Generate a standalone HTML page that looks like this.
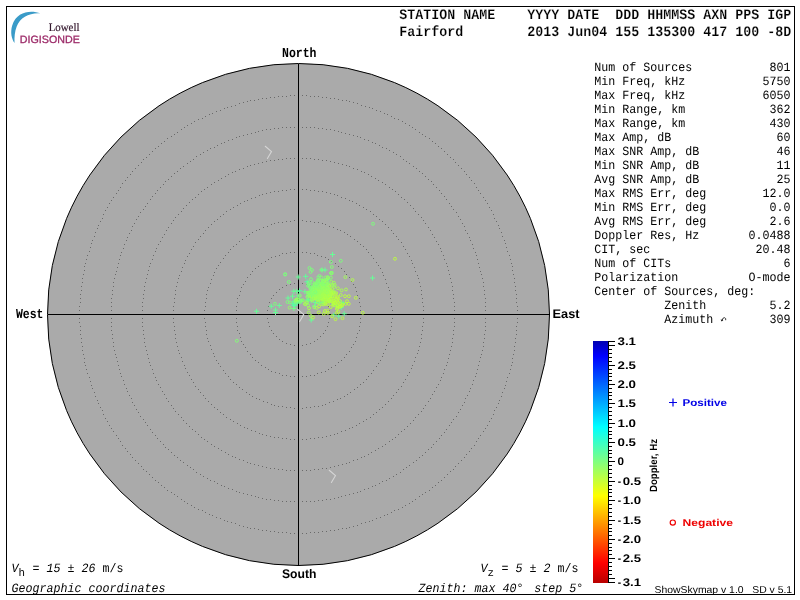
<!DOCTYPE html>
<html lang="en">
<head>
<meta charset="utf-8">
<title>Digisonde Skymap - Fairford 2013 Jun04</title>
<style>
html, body { margin: 0; padding: 0; background: #fff; overflow: hidden; }
body { width: 800px; height: 600px; font-family: "Liberation Sans", sans-serif; }
svg { display: block; position: absolute; left: 0; top: 0; }
text { text-rendering: geometricPrecision; white-space: pre; }
svg { will-change: transform; }
</style>
</head>
<body>
<svg width="800" height="600" viewBox="0 0 800 600">
<rect x="0" y="0" width="800" height="600" fill="#fff"/>
<rect x="6.5" y="6.5" width="788" height="588" fill="none" stroke="#000" stroke-width="1"/>
<circle cx="298.5" cy="314.5" r="251.0" fill="#aaaaaa" stroke="#000" stroke-width="1"/>
<path d="M298 283h1v1h-1zM302 283h1v1h-1zM306 284h1v1h-1zM310 285h1v1h-1zM314 287h1v1h-1zM317 289h1v1h-1zM320 292h1v1h-1zM323 295h1v1h-1zM325 298h1v1h-1zM327 302h1v1h-1zM328 306h1v1h-1zM329 310h1v1h-1zM329 314h1v1h-1zM329 318h1v1h-1zM328 322h1v1h-1zM327 326h1v1h-1zM325 330h1v1h-1zM323 333h1v1h-1zM320 336h1v1h-1zM317 339h1v1h-1zM314 341h1v1h-1zM310 343h1v1h-1zM306 344h1v1h-1zM302 345h1v1h-1zM298 345h1v1h-1zM294 345h1v1h-1zM290 344h1v1h-1zM286 343h1v1h-1zM282 341h1v1h-1zM279 339h1v1h-1zM276 336h1v1h-1zM273 333h1v1h-1zM271 330h1v1h-1zM269 326h1v1h-1zM268 322h1v1h-1zM267 318h1v1h-1zM267 314h1v1h-1zM267 310h1v1h-1zM268 306h1v1h-1zM269 302h1v1h-1zM271 298h1v1h-1zM273 295h1v1h-1zM276 292h1v1h-1zM279 289h1v1h-1zM282 287h1v1h-1zM286 285h1v1h-1zM290 284h1v1h-1zM294 283h1v1h-1zM298 252h1v1h-1zM302 252h1v1h-1zM306 252h1v1h-1zM310 253h1v1h-1zM314 253h1v1h-1zM317 255h1v1h-1zM321 256h1v1h-1zM325 257h1v1h-1zM328 259h1v1h-1zM331 261h1v1h-1zM335 263h1v1h-1zM338 266h1v1h-1zM341 268h1v1h-1zM344 271h1v1h-1zM346 274h1v1h-1zM349 277h1v1h-1zM351 281h1v1h-1zM353 284h1v1h-1zM355 287h1v1h-1zM356 291h1v1h-1zM357 295h1v1h-1zM359 298h1v1h-1zM359 302h1v1h-1zM360 306h1v1h-1zM360 310h1v1h-1zM360 314h1v1h-1zM360 318h1v1h-1zM360 322h1v1h-1zM359 326h1v1h-1zM359 330h1v1h-1zM357 333h1v1h-1zM356 337h1v1h-1zM355 341h1v1h-1zM353 344h1v1h-1zM351 347h1v1h-1zM349 351h1v1h-1zM346 354h1v1h-1zM344 357h1v1h-1zM341 360h1v1h-1zM338 362h1v1h-1zM335 365h1v1h-1zM331 367h1v1h-1zM328 369h1v1h-1zM325 371h1v1h-1zM321 372h1v1h-1zM317 373h1v1h-1zM314 375h1v1h-1zM310 375h1v1h-1zM306 376h1v1h-1zM302 376h1v1h-1zM298 376h1v1h-1zM294 376h1v1h-1zM290 376h1v1h-1zM286 375h1v1h-1zM282 375h1v1h-1zM279 373h1v1h-1zM275 372h1v1h-1zM271 371h1v1h-1zM268 369h1v1h-1zM265 367h1v1h-1zM261 365h1v1h-1zM258 362h1v1h-1zM255 360h1v1h-1zM252 357h1v1h-1zM250 354h1v1h-1zM247 351h1v1h-1zM245 347h1v1h-1zM243 344h1v1h-1zM241 341h1v1h-1zM240 337h1v1h-1zM239 333h1v1h-1zM237 330h1v1h-1zM237 326h1v1h-1zM236 322h1v1h-1zM236 318h1v1h-1zM236 314h1v1h-1zM236 310h1v1h-1zM236 306h1v1h-1zM237 302h1v1h-1zM237 298h1v1h-1zM239 295h1v1h-1zM240 291h1v1h-1zM241 287h1v1h-1zM243 284h1v1h-1zM245 281h1v1h-1zM247 277h1v1h-1zM250 274h1v1h-1zM252 271h1v1h-1zM255 268h1v1h-1zM258 266h1v1h-1zM261 263h1v1h-1zM265 261h1v1h-1zM268 259h1v1h-1zM271 257h1v1h-1zM275 256h1v1h-1zM279 255h1v1h-1zM282 253h1v1h-1zM286 253h1v1h-1zM290 252h1v1h-1zM294 252h1v1h-1zM298 220h1v1h-1zM302 220h1v1h-1zM306 221h1v1h-1zM310 221h1v1h-1zM314 222h1v1h-1zM318 222h1v1h-1zM322 223h1v1h-1zM325 224h1v1h-1zM329 226h1v1h-1zM333 227h1v1h-1zM337 229h1v1h-1zM340 230h1v1h-1zM344 232h1v1h-1zM347 234h1v1h-1zM350 236h1v1h-1zM354 239h1v1h-1zM357 241h1v1h-1zM360 244h1v1h-1zM363 246h1v1h-1zM366 249h1v1h-1zM368 252h1v1h-1zM371 255h1v1h-1zM373 258h1v1h-1zM376 262h1v1h-1zM378 265h1v1h-1zM380 268h1v1h-1zM382 272h1v1h-1zM383 275h1v1h-1zM385 279h1v1h-1zM386 283h1v1h-1zM388 287h1v1h-1zM389 290h1v1h-1zM390 294h1v1h-1zM390 298h1v1h-1zM391 302h1v1h-1zM391 306h1v1h-1zM392 310h1v1h-1zM392 314h1v1h-1zM392 318h1v1h-1zM391 322h1v1h-1zM391 326h1v1h-1zM390 330h1v1h-1zM390 334h1v1h-1zM389 338h1v1h-1zM388 341h1v1h-1zM386 345h1v1h-1zM385 349h1v1h-1zM383 353h1v1h-1zM382 356h1v1h-1zM380 360h1v1h-1zM378 363h1v1h-1zM376 366h1v1h-1zM373 370h1v1h-1zM371 373h1v1h-1zM368 376h1v1h-1zM366 379h1v1h-1zM363 382h1v1h-1zM360 384h1v1h-1zM357 387h1v1h-1zM354 389h1v1h-1zM350 392h1v1h-1zM347 394h1v1h-1zM344 396h1v1h-1zM340 398h1v1h-1zM337 399h1v1h-1zM333 401h1v1h-1zM329 402h1v1h-1zM325 404h1v1h-1zM322 405h1v1h-1zM318 406h1v1h-1zM314 406h1v1h-1zM310 407h1v1h-1zM306 407h1v1h-1zM302 408h1v1h-1zM298 408h1v1h-1zM294 408h1v1h-1zM290 407h1v1h-1zM286 407h1v1h-1zM282 406h1v1h-1zM278 406h1v1h-1zM274 405h1v1h-1zM271 404h1v1h-1zM267 402h1v1h-1zM263 401h1v1h-1zM259 399h1v1h-1zM256 398h1v1h-1zM252 396h1v1h-1zM249 394h1v1h-1zM246 392h1v1h-1zM242 389h1v1h-1zM239 387h1v1h-1zM236 384h1v1h-1zM233 382h1v1h-1zM230 379h1v1h-1zM228 376h1v1h-1zM225 373h1v1h-1zM223 370h1v1h-1zM220 366h1v1h-1zM218 363h1v1h-1zM216 360h1v1h-1zM214 356h1v1h-1zM213 353h1v1h-1zM211 349h1v1h-1zM210 345h1v1h-1zM208 341h1v1h-1zM207 338h1v1h-1zM206 334h1v1h-1zM206 330h1v1h-1zM205 326h1v1h-1zM205 322h1v1h-1zM204 318h1v1h-1zM204 314h1v1h-1zM204 310h1v1h-1zM205 306h1v1h-1zM205 302h1v1h-1zM206 298h1v1h-1zM206 294h1v1h-1zM207 290h1v1h-1zM208 287h1v1h-1zM210 283h1v1h-1zM211 279h1v1h-1zM213 275h1v1h-1zM214 272h1v1h-1zM216 268h1v1h-1zM218 265h1v1h-1zM220 262h1v1h-1zM223 258h1v1h-1zM225 255h1v1h-1zM228 252h1v1h-1zM230 249h1v1h-1zM233 246h1v1h-1zM236 244h1v1h-1zM239 241h1v1h-1zM242 239h1v1h-1zM246 236h1v1h-1zM249 234h1v1h-1zM252 232h1v1h-1zM256 230h1v1h-1zM259 229h1v1h-1zM263 227h1v1h-1zM267 226h1v1h-1zM271 224h1v1h-1zM274 223h1v1h-1zM278 222h1v1h-1zM282 222h1v1h-1zM286 221h1v1h-1zM290 221h1v1h-1zM294 220h1v1h-1zM298 189h1v1h-1zM302 189h1v1h-1zM306 189h1v1h-1zM310 190h1v1h-1zM314 190h1v1h-1zM318 191h1v1h-1zM322 191h1v1h-1zM326 192h1v1h-1zM330 193h1v1h-1zM334 194h1v1h-1zM337 195h1v1h-1zM341 197h1v1h-1zM345 198h1v1h-1zM349 200h1v1h-1zM352 201h1v1h-1zM356 203h1v1h-1zM359 205h1v1h-1zM363 207h1v1h-1zM366 209h1v1h-1zM370 211h1v1h-1zM373 214h1v1h-1zM376 216h1v1h-1zM379 219h1v1h-1zM382 221h1v1h-1zM385 224h1v1h-1zM388 227h1v1h-1zM391 230h1v1h-1zM393 233h1v1h-1zM396 236h1v1h-1zM398 239h1v1h-1zM401 242h1v1h-1zM403 246h1v1h-1zM405 249h1v1h-1zM407 253h1v1h-1zM409 256h1v1h-1zM411 260h1v1h-1zM412 263h1v1h-1zM414 267h1v1h-1zM415 271h1v1h-1zM417 275h1v1h-1zM418 278h1v1h-1zM419 282h1v1h-1zM420 286h1v1h-1zM421 290h1v1h-1zM421 294h1v1h-1zM422 298h1v1h-1zM422 302h1v1h-1zM423 306h1v1h-1zM423 310h1v1h-1zM423 314h1v1h-1zM423 318h1v1h-1zM423 322h1v1h-1zM422 326h1v1h-1zM422 330h1v1h-1zM421 334h1v1h-1zM421 338h1v1h-1zM420 342h1v1h-1zM419 346h1v1h-1zM418 350h1v1h-1zM417 353h1v1h-1zM415 357h1v1h-1zM414 361h1v1h-1zM412 365h1v1h-1zM411 368h1v1h-1zM409 372h1v1h-1zM407 375h1v1h-1zM405 379h1v1h-1zM403 382h1v1h-1zM401 386h1v1h-1zM398 389h1v1h-1zM396 392h1v1h-1zM393 395h1v1h-1zM391 398h1v1h-1zM388 401h1v1h-1zM385 404h1v1h-1zM382 407h1v1h-1zM379 409h1v1h-1zM376 412h1v1h-1zM373 414h1v1h-1zM370 417h1v1h-1zM366 419h1v1h-1zM363 421h1v1h-1zM359 423h1v1h-1zM356 425h1v1h-1zM352 427h1v1h-1zM349 428h1v1h-1zM345 430h1v1h-1zM341 431h1v1h-1zM337 433h1v1h-1zM334 434h1v1h-1zM330 435h1v1h-1zM326 436h1v1h-1zM322 437h1v1h-1zM318 437h1v1h-1zM314 438h1v1h-1zM310 438h1v1h-1zM306 439h1v1h-1zM302 439h1v1h-1zM298 439h1v1h-1zM294 439h1v1h-1zM290 439h1v1h-1zM286 438h1v1h-1zM282 438h1v1h-1zM278 437h1v1h-1zM274 437h1v1h-1zM270 436h1v1h-1zM266 435h1v1h-1zM262 434h1v1h-1zM259 433h1v1h-1zM255 431h1v1h-1zM251 430h1v1h-1zM247 428h1v1h-1zM244 427h1v1h-1zM240 425h1v1h-1zM237 423h1v1h-1zM233 421h1v1h-1zM230 419h1v1h-1zM226 417h1v1h-1zM223 414h1v1h-1zM220 412h1v1h-1zM217 409h1v1h-1zM214 407h1v1h-1zM211 404h1v1h-1zM208 401h1v1h-1zM205 398h1v1h-1zM203 395h1v1h-1zM200 392h1v1h-1zM198 389h1v1h-1zM195 386h1v1h-1zM193 382h1v1h-1zM191 379h1v1h-1zM189 375h1v1h-1zM187 372h1v1h-1zM185 368h1v1h-1zM184 365h1v1h-1zM182 361h1v1h-1zM181 357h1v1h-1zM179 353h1v1h-1zM178 350h1v1h-1zM177 346h1v1h-1zM176 342h1v1h-1zM175 338h1v1h-1zM175 334h1v1h-1zM174 330h1v1h-1zM174 326h1v1h-1zM173 322h1v1h-1zM173 318h1v1h-1zM173 314h1v1h-1zM173 310h1v1h-1zM173 306h1v1h-1zM174 302h1v1h-1zM174 298h1v1h-1zM175 294h1v1h-1zM175 290h1v1h-1zM176 286h1v1h-1zM177 282h1v1h-1zM178 278h1v1h-1zM179 275h1v1h-1zM181 271h1v1h-1zM182 267h1v1h-1zM184 263h1v1h-1zM185 260h1v1h-1zM187 256h1v1h-1zM189 253h1v1h-1zM191 249h1v1h-1zM193 246h1v1h-1zM195 242h1v1h-1zM198 239h1v1h-1zM200 236h1v1h-1zM203 233h1v1h-1zM205 230h1v1h-1zM208 227h1v1h-1zM211 224h1v1h-1zM214 221h1v1h-1zM217 219h1v1h-1zM220 216h1v1h-1zM223 214h1v1h-1zM226 211h1v1h-1zM230 209h1v1h-1zM233 207h1v1h-1zM237 205h1v1h-1zM240 203h1v1h-1zM244 201h1v1h-1zM247 200h1v1h-1zM251 198h1v1h-1zM255 197h1v1h-1zM259 195h1v1h-1zM262 194h1v1h-1zM266 193h1v1h-1zM270 192h1v1h-1zM274 191h1v1h-1zM278 191h1v1h-1zM282 190h1v1h-1zM286 190h1v1h-1zM290 189h1v1h-1zM294 189h1v1h-1zM298 158h1v1h-1zM302 158h1v1h-1zM306 158h1v1h-1zM310 158h1v1h-1zM314 159h1v1h-1zM318 159h1v1h-1zM322 160h1v1h-1zM326 160h1v1h-1zM330 161h1v1h-1zM334 162h1v1h-1zM338 163h1v1h-1zM342 164h1v1h-1zM346 165h1v1h-1zM349 166h1v1h-1zM353 168h1v1h-1zM357 169h1v1h-1zM361 171h1v1h-1zM364 172h1v1h-1zM368 174h1v1h-1zM371 176h1v1h-1zM375 178h1v1h-1zM378 180h1v1h-1zM382 182h1v1h-1zM385 184h1v1h-1zM389 187h1v1h-1zM392 189h1v1h-1zM395 191h1v1h-1zM398 194h1v1h-1zM401 197h1v1h-1zM404 199h1v1h-1zM407 202h1v1h-1zM410 205h1v1h-1zM413 208h1v1h-1zM415 211h1v1h-1zM418 214h1v1h-1zM421 217h1v1h-1zM423 220h1v1h-1zM425 223h1v1h-1zM428 227h1v1h-1zM430 230h1v1h-1zM432 234h1v1h-1zM434 237h1v1h-1zM436 241h1v1h-1zM438 244h1v1h-1zM440 248h1v1h-1zM441 251h1v1h-1zM443 255h1v1h-1zM444 259h1v1h-1zM446 263h1v1h-1zM447 266h1v1h-1zM448 270h1v1h-1zM449 274h1v1h-1zM450 278h1v1h-1zM451 282h1v1h-1zM452 286h1v1h-1zM452 290h1v1h-1zM453 294h1v1h-1zM453 298h1v1h-1zM454 302h1v1h-1zM454 306h1v1h-1zM454 310h1v1h-1zM454 314h1v1h-1zM454 318h1v1h-1zM454 322h1v1h-1zM454 326h1v1h-1zM453 330h1v1h-1zM453 334h1v1h-1zM452 338h1v1h-1zM452 342h1v1h-1zM451 346h1v1h-1zM450 350h1v1h-1zM449 354h1v1h-1zM448 358h1v1h-1zM447 362h1v1h-1zM446 365h1v1h-1zM444 369h1v1h-1zM443 373h1v1h-1zM441 377h1v1h-1zM440 380h1v1h-1zM438 384h1v1h-1zM436 387h1v1h-1zM434 391h1v1h-1zM432 394h1v1h-1zM430 398h1v1h-1zM428 401h1v1h-1zM425 405h1v1h-1zM423 408h1v1h-1zM421 411h1v1h-1zM418 414h1v1h-1zM415 417h1v1h-1zM413 420h1v1h-1zM410 423h1v1h-1zM407 426h1v1h-1zM404 429h1v1h-1zM401 431h1v1h-1zM398 434h1v1h-1zM395 437h1v1h-1zM392 439h1v1h-1zM389 441h1v1h-1zM385 444h1v1h-1zM382 446h1v1h-1zM378 448h1v1h-1zM375 450h1v1h-1zM371 452h1v1h-1zM368 454h1v1h-1zM364 456h1v1h-1zM361 457h1v1h-1zM357 459h1v1h-1zM353 460h1v1h-1zM349 462h1v1h-1zM346 463h1v1h-1zM342 464h1v1h-1zM338 465h1v1h-1zM334 466h1v1h-1zM330 467h1v1h-1zM326 468h1v1h-1zM322 468h1v1h-1zM318 469h1v1h-1zM314 469h1v1h-1zM310 470h1v1h-1zM306 470h1v1h-1zM302 470h1v1h-1zM298 470h1v1h-1zM294 470h1v1h-1zM290 470h1v1h-1zM286 470h1v1h-1zM282 469h1v1h-1zM278 469h1v1h-1zM274 468h1v1h-1zM270 468h1v1h-1zM266 467h1v1h-1zM262 466h1v1h-1zM258 465h1v1h-1zM254 464h1v1h-1zM250 463h1v1h-1zM247 462h1v1h-1zM243 460h1v1h-1zM239 459h1v1h-1zM235 457h1v1h-1zM232 456h1v1h-1zM228 454h1v1h-1zM225 452h1v1h-1zM221 450h1v1h-1zM218 448h1v1h-1zM214 446h1v1h-1zM211 444h1v1h-1zM207 441h1v1h-1zM204 439h1v1h-1zM201 437h1v1h-1zM198 434h1v1h-1zM195 431h1v1h-1zM192 429h1v1h-1zM189 426h1v1h-1zM186 423h1v1h-1zM183 420h1v1h-1zM181 417h1v1h-1zM178 414h1v1h-1zM175 411h1v1h-1zM173 408h1v1h-1zM171 405h1v1h-1zM168 401h1v1h-1zM166 398h1v1h-1zM164 394h1v1h-1zM162 391h1v1h-1zM160 387h1v1h-1zM158 384h1v1h-1zM156 380h1v1h-1zM155 377h1v1h-1zM153 373h1v1h-1zM152 369h1v1h-1zM150 365h1v1h-1zM149 362h1v1h-1zM148 358h1v1h-1zM147 354h1v1h-1zM146 350h1v1h-1zM145 346h1v1h-1zM144 342h1v1h-1zM144 338h1v1h-1zM143 334h1v1h-1zM143 330h1v1h-1zM142 326h1v1h-1zM142 322h1v1h-1zM142 318h1v1h-1zM142 314h1v1h-1zM142 310h1v1h-1zM142 306h1v1h-1zM142 302h1v1h-1zM143 298h1v1h-1zM143 294h1v1h-1zM144 290h1v1h-1zM144 286h1v1h-1zM145 282h1v1h-1zM146 278h1v1h-1zM147 274h1v1h-1zM148 270h1v1h-1zM149 266h1v1h-1zM150 263h1v1h-1zM152 259h1v1h-1zM153 255h1v1h-1zM155 251h1v1h-1zM156 248h1v1h-1zM158 244h1v1h-1zM160 241h1v1h-1zM162 237h1v1h-1zM164 234h1v1h-1zM166 230h1v1h-1zM168 227h1v1h-1zM171 223h1v1h-1zM173 220h1v1h-1zM175 217h1v1h-1zM178 214h1v1h-1zM181 211h1v1h-1zM183 208h1v1h-1zM186 205h1v1h-1zM189 202h1v1h-1zM192 199h1v1h-1zM195 197h1v1h-1zM198 194h1v1h-1zM201 191h1v1h-1zM204 189h1v1h-1zM207 187h1v1h-1zM211 184h1v1h-1zM214 182h1v1h-1zM218 180h1v1h-1zM221 178h1v1h-1zM225 176h1v1h-1zM228 174h1v1h-1zM232 172h1v1h-1zM235 171h1v1h-1zM239 169h1v1h-1zM243 168h1v1h-1zM247 166h1v1h-1zM250 165h1v1h-1zM254 164h1v1h-1zM258 163h1v1h-1zM262 162h1v1h-1zM266 161h1v1h-1zM270 160h1v1h-1zM274 160h1v1h-1zM278 159h1v1h-1zM282 159h1v1h-1zM286 158h1v1h-1zM290 158h1v1h-1zM294 158h1v1h-1zM298 126h1v1h-1zM302 127h1v1h-1zM306 127h1v1h-1zM310 127h1v1h-1zM314 127h1v1h-1zM318 128h1v1h-1zM322 128h1v1h-1zM326 129h1v1h-1zM330 129h1v1h-1zM334 130h1v1h-1zM338 131h1v1h-1zM341 132h1v1h-1zM345 133h1v1h-1zM349 134h1v1h-1zM353 135h1v1h-1zM357 136h1v1h-1zM360 137h1v1h-1zM364 139h1v1h-1zM368 140h1v1h-1zM372 142h1v1h-1zM375 143h1v1h-1zM379 145h1v1h-1zM382 147h1v1h-1zM386 148h1v1h-1zM389 150h1v1h-1zM393 152h1v1h-1zM396 154h1v1h-1zM400 156h1v1h-1zM403 159h1v1h-1zM406 161h1v1h-1zM409 163h1v1h-1zM413 166h1v1h-1zM416 168h1v1h-1zM419 171h1v1h-1zM422 173h1v1h-1zM425 176h1v1h-1zM428 179h1v1h-1zM431 181h1v1h-1zM433 184h1v1h-1zM436 187h1v1h-1zM439 190h1v1h-1zM441 193h1v1h-1zM444 196h1v1h-1zM446 199h1v1h-1zM449 203h1v1h-1zM451 206h1v1h-1zM453 209h1v1h-1zM456 212h1v1h-1zM458 216h1v1h-1zM460 219h1v1h-1zM462 223h1v1h-1zM464 226h1v1h-1zM465 230h1v1h-1zM467 233h1v1h-1zM469 237h1v1h-1zM470 240h1v1h-1zM472 244h1v1h-1zM473 248h1v1h-1zM475 252h1v1h-1zM476 255h1v1h-1zM477 259h1v1h-1zM478 263h1v1h-1zM479 267h1v1h-1zM480 271h1v1h-1zM481 274h1v1h-1zM482 278h1v1h-1zM483 282h1v1h-1zM483 286h1v1h-1zM484 290h1v1h-1zM484 294h1v1h-1zM485 298h1v1h-1zM485 302h1v1h-1zM485 306h1v1h-1zM485 310h1v1h-1zM486 314h1v1h-1zM485 318h1v1h-1zM485 322h1v1h-1zM485 326h1v1h-1zM485 330h1v1h-1zM484 334h1v1h-1zM484 338h1v1h-1zM483 342h1v1h-1zM483 346h1v1h-1zM482 350h1v1h-1zM481 354h1v1h-1zM480 357h1v1h-1zM479 361h1v1h-1zM478 365h1v1h-1zM477 369h1v1h-1zM476 373h1v1h-1zM475 376h1v1h-1zM473 380h1v1h-1zM472 384h1v1h-1zM470 388h1v1h-1zM469 391h1v1h-1zM467 395h1v1h-1zM465 398h1v1h-1zM464 402h1v1h-1zM462 405h1v1h-1zM460 409h1v1h-1zM458 412h1v1h-1zM456 416h1v1h-1zM453 419h1v1h-1zM451 422h1v1h-1zM449 425h1v1h-1zM446 429h1v1h-1zM444 432h1v1h-1zM441 435h1v1h-1zM439 438h1v1h-1zM436 441h1v1h-1zM433 444h1v1h-1zM431 447h1v1h-1zM428 449h1v1h-1zM425 452h1v1h-1zM422 455h1v1h-1zM419 457h1v1h-1zM416 460h1v1h-1zM413 462h1v1h-1zM409 465h1v1h-1zM406 467h1v1h-1zM403 469h1v1h-1zM400 472h1v1h-1zM396 474h1v1h-1zM393 476h1v1h-1zM389 478h1v1h-1zM386 480h1v1h-1zM382 481h1v1h-1zM379 483h1v1h-1zM375 485h1v1h-1zM372 486h1v1h-1zM368 488h1v1h-1zM364 489h1v1h-1zM360 491h1v1h-1zM357 492h1v1h-1zM353 493h1v1h-1zM349 494h1v1h-1zM345 495h1v1h-1zM341 496h1v1h-1zM338 497h1v1h-1zM334 498h1v1h-1zM330 499h1v1h-1zM326 499h1v1h-1zM322 500h1v1h-1zM318 500h1v1h-1zM314 501h1v1h-1zM310 501h1v1h-1zM306 501h1v1h-1zM302 501h1v1h-1zM298 502h1v1h-1zM294 501h1v1h-1zM290 501h1v1h-1zM286 501h1v1h-1zM282 501h1v1h-1zM278 500h1v1h-1zM274 500h1v1h-1zM270 499h1v1h-1zM266 499h1v1h-1zM262 498h1v1h-1zM258 497h1v1h-1zM255 496h1v1h-1zM251 495h1v1h-1zM247 494h1v1h-1zM243 493h1v1h-1zM239 492h1v1h-1zM236 491h1v1h-1zM232 489h1v1h-1zM228 488h1v1h-1zM224 486h1v1h-1zM221 485h1v1h-1zM217 483h1v1h-1zM214 481h1v1h-1zM210 480h1v1h-1zM207 478h1v1h-1zM203 476h1v1h-1zM200 474h1v1h-1zM196 472h1v1h-1zM193 469h1v1h-1zM190 467h1v1h-1zM187 465h1v1h-1zM183 462h1v1h-1zM180 460h1v1h-1zM177 457h1v1h-1zM174 455h1v1h-1zM171 452h1v1h-1zM168 449h1v1h-1zM165 447h1v1h-1zM163 444h1v1h-1zM160 441h1v1h-1zM157 438h1v1h-1zM155 435h1v1h-1zM152 432h1v1h-1zM150 429h1v1h-1zM147 425h1v1h-1zM145 422h1v1h-1zM143 419h1v1h-1zM140 416h1v1h-1zM138 412h1v1h-1zM136 409h1v1h-1zM134 405h1v1h-1zM132 402h1v1h-1zM131 398h1v1h-1zM129 395h1v1h-1zM127 391h1v1h-1zM126 388h1v1h-1zM124 384h1v1h-1zM123 380h1v1h-1zM121 376h1v1h-1zM120 373h1v1h-1zM119 369h1v1h-1zM118 365h1v1h-1zM117 361h1v1h-1zM116 357h1v1h-1zM115 354h1v1h-1zM114 350h1v1h-1zM113 346h1v1h-1zM113 342h1v1h-1zM112 338h1v1h-1zM112 334h1v1h-1zM111 330h1v1h-1zM111 326h1v1h-1zM111 322h1v1h-1zM111 318h1v1h-1zM110 314h1v1h-1zM111 310h1v1h-1zM111 306h1v1h-1zM111 302h1v1h-1zM111 298h1v1h-1zM112 294h1v1h-1zM112 290h1v1h-1zM113 286h1v1h-1zM113 282h1v1h-1zM114 278h1v1h-1zM115 274h1v1h-1zM116 271h1v1h-1zM117 267h1v1h-1zM118 263h1v1h-1zM119 259h1v1h-1zM120 255h1v1h-1zM121 252h1v1h-1zM123 248h1v1h-1zM124 244h1v1h-1zM126 240h1v1h-1zM127 237h1v1h-1zM129 233h1v1h-1zM131 230h1v1h-1zM132 226h1v1h-1zM134 223h1v1h-1zM136 219h1v1h-1zM138 216h1v1h-1zM140 212h1v1h-1zM143 209h1v1h-1zM145 206h1v1h-1zM147 203h1v1h-1zM150 199h1v1h-1zM152 196h1v1h-1zM155 193h1v1h-1zM157 190h1v1h-1zM160 187h1v1h-1zM163 184h1v1h-1zM165 181h1v1h-1zM168 179h1v1h-1zM171 176h1v1h-1zM174 173h1v1h-1zM177 171h1v1h-1zM180 168h1v1h-1zM183 166h1v1h-1zM187 163h1v1h-1zM190 161h1v1h-1zM193 159h1v1h-1zM196 156h1v1h-1zM200 154h1v1h-1zM203 152h1v1h-1zM207 150h1v1h-1zM210 148h1v1h-1zM214 147h1v1h-1zM217 145h1v1h-1zM221 143h1v1h-1zM224 142h1v1h-1zM228 140h1v1h-1zM232 139h1v1h-1zM236 137h1v1h-1zM239 136h1v1h-1zM243 135h1v1h-1zM247 134h1v1h-1zM251 133h1v1h-1zM255 132h1v1h-1zM258 131h1v1h-1zM262 130h1v1h-1zM266 129h1v1h-1zM270 129h1v1h-1zM274 128h1v1h-1zM278 128h1v1h-1zM282 127h1v1h-1zM286 127h1v1h-1zM290 127h1v1h-1zM294 127h1v1h-1zM298 95h1v1h-1zM302 95h1v1h-1zM306 95h1v1h-1zM310 96h1v1h-1zM314 96h1v1h-1zM318 96h1v1h-1zM322 97h1v1h-1zM326 97h1v1h-1zM330 98h1v1h-1zM334 98h1v1h-1zM338 99h1v1h-1zM342 100h1v1h-1zM346 100h1v1h-1zM349 101h1v1h-1zM353 102h1v1h-1zM357 103h1v1h-1zM361 105h1v1h-1zM365 106h1v1h-1zM369 107h1v1h-1zM372 108h1v1h-1zM376 110h1v1h-1zM380 111h1v1h-1zM384 113h1v1h-1zM387 114h1v1h-1zM391 116h1v1h-1zM394 118h1v1h-1zM398 119h1v1h-1zM402 121h1v1h-1zM405 123h1v1h-1zM409 125h1v1h-1zM412 127h1v1h-1zM415 129h1v1h-1zM419 132h1v1h-1zM422 134h1v1h-1zM425 136h1v1h-1zM429 138h1v1h-1zM432 141h1v1h-1zM435 143h1v1h-1zM438 146h1v1h-1zM441 148h1v1h-1zM444 151h1v1h-1zM447 154h1v1h-1zM450 157h1v1h-1zM453 159h1v1h-1zM455 162h1v1h-1zM458 165h1v1h-1zM461 168h1v1h-1zM464 171h1v1h-1zM466 174h1v1h-1zM469 177h1v1h-1zM471 180h1v1h-1zM474 183h1v1h-1zM476 187h1v1h-1zM478 190h1v1h-1zM480 193h1v1h-1zM483 197h1v1h-1zM485 200h1v1h-1zM487 203h1v1h-1zM489 207h1v1h-1zM491 210h1v1h-1zM493 214h1v1h-1zM494 218h1v1h-1zM496 221h1v1h-1zM498 225h1v1h-1zM499 228h1v1h-1zM501 232h1v1h-1zM502 236h1v1h-1zM504 240h1v1h-1zM505 243h1v1h-1zM506 247h1v1h-1zM507 251h1v1h-1zM509 255h1v1h-1zM510 259h1v1h-1zM511 263h1v1h-1zM512 266h1v1h-1zM512 270h1v1h-1zM513 274h1v1h-1zM514 278h1v1h-1zM514 282h1v1h-1zM515 286h1v1h-1zM515 290h1v1h-1zM516 294h1v1h-1zM516 298h1v1h-1zM516 302h1v1h-1zM517 306h1v1h-1zM517 310h1v1h-1zM517 314h1v1h-1zM517 318h1v1h-1zM517 322h1v1h-1zM516 326h1v1h-1zM516 330h1v1h-1zM516 334h1v1h-1zM515 338h1v1h-1zM515 342h1v1h-1zM514 346h1v1h-1zM514 350h1v1h-1zM513 354h1v1h-1zM512 358h1v1h-1zM512 362h1v1h-1zM511 365h1v1h-1zM510 369h1v1h-1zM509 373h1v1h-1zM507 377h1v1h-1zM506 381h1v1h-1zM505 385h1v1h-1zM504 388h1v1h-1zM502 392h1v1h-1zM501 396h1v1h-1zM499 400h1v1h-1zM498 403h1v1h-1zM496 407h1v1h-1zM494 410h1v1h-1zM493 414h1v1h-1zM491 418h1v1h-1zM489 421h1v1h-1zM487 425h1v1h-1zM485 428h1v1h-1zM483 431h1v1h-1zM480 435h1v1h-1zM478 438h1v1h-1zM476 441h1v1h-1zM474 445h1v1h-1zM471 448h1v1h-1zM469 451h1v1h-1zM466 454h1v1h-1zM464 457h1v1h-1zM461 460h1v1h-1zM458 463h1v1h-1zM455 466h1v1h-1zM453 469h1v1h-1zM450 471h1v1h-1zM447 474h1v1h-1zM444 477h1v1h-1zM441 480h1v1h-1zM438 482h1v1h-1zM435 485h1v1h-1zM432 487h1v1h-1zM429 490h1v1h-1zM425 492h1v1h-1zM422 494h1v1h-1zM419 496h1v1h-1zM415 499h1v1h-1zM412 501h1v1h-1zM409 503h1v1h-1zM405 505h1v1h-1zM402 507h1v1h-1zM398 509h1v1h-1zM394 510h1v1h-1zM391 512h1v1h-1zM387 514h1v1h-1zM384 515h1v1h-1zM380 517h1v1h-1zM376 518h1v1h-1zM372 520h1v1h-1zM369 521h1v1h-1zM365 522h1v1h-1zM361 523h1v1h-1zM357 525h1v1h-1zM353 526h1v1h-1zM349 527h1v1h-1zM346 528h1v1h-1zM342 528h1v1h-1zM338 529h1v1h-1zM334 530h1v1h-1zM330 530h1v1h-1zM326 531h1v1h-1zM322 531h1v1h-1zM318 532h1v1h-1zM314 532h1v1h-1zM310 532h1v1h-1zM306 533h1v1h-1zM302 533h1v1h-1zM298 533h1v1h-1zM294 533h1v1h-1zM290 533h1v1h-1zM286 532h1v1h-1zM282 532h1v1h-1zM278 532h1v1h-1zM274 531h1v1h-1zM270 531h1v1h-1zM266 530h1v1h-1zM262 530h1v1h-1zM258 529h1v1h-1zM254 528h1v1h-1zM250 528h1v1h-1zM247 527h1v1h-1zM243 526h1v1h-1zM239 525h1v1h-1zM235 523h1v1h-1zM231 522h1v1h-1zM227 521h1v1h-1zM224 520h1v1h-1zM220 518h1v1h-1zM216 517h1v1h-1zM212 515h1v1h-1zM209 514h1v1h-1zM205 512h1v1h-1zM202 510h1v1h-1zM198 509h1v1h-1zM194 507h1v1h-1zM191 505h1v1h-1zM187 503h1v1h-1zM184 501h1v1h-1zM181 499h1v1h-1zM177 496h1v1h-1zM174 494h1v1h-1zM171 492h1v1h-1zM167 490h1v1h-1zM164 487h1v1h-1zM161 485h1v1h-1zM158 482h1v1h-1zM155 480h1v1h-1zM152 477h1v1h-1zM149 474h1v1h-1zM146 471h1v1h-1zM143 469h1v1h-1zM141 466h1v1h-1zM138 463h1v1h-1zM135 460h1v1h-1zM132 457h1v1h-1zM130 454h1v1h-1zM127 451h1v1h-1zM125 448h1v1h-1zM122 445h1v1h-1zM120 441h1v1h-1zM118 438h1v1h-1zM116 435h1v1h-1zM113 431h1v1h-1zM111 428h1v1h-1zM109 425h1v1h-1zM107 421h1v1h-1zM105 418h1v1h-1zM103 414h1v1h-1zM102 410h1v1h-1zM100 407h1v1h-1zM98 403h1v1h-1zM97 400h1v1h-1zM95 396h1v1h-1zM94 392h1v1h-1zM92 388h1v1h-1zM91 385h1v1h-1zM90 381h1v1h-1zM89 377h1v1h-1zM87 373h1v1h-1zM86 369h1v1h-1zM85 365h1v1h-1zM84 362h1v1h-1zM84 358h1v1h-1zM83 354h1v1h-1zM82 350h1v1h-1zM82 346h1v1h-1zM81 342h1v1h-1zM81 338h1v1h-1zM80 334h1v1h-1zM80 330h1v1h-1zM80 326h1v1h-1zM79 322h1v1h-1zM79 318h1v1h-1zM79 314h1v1h-1zM79 310h1v1h-1zM79 306h1v1h-1zM80 302h1v1h-1zM80 298h1v1h-1zM80 294h1v1h-1zM81 290h1v1h-1zM81 286h1v1h-1zM82 282h1v1h-1zM82 278h1v1h-1zM83 274h1v1h-1zM84 270h1v1h-1zM84 266h1v1h-1zM85 263h1v1h-1zM86 259h1v1h-1zM87 255h1v1h-1zM89 251h1v1h-1zM90 247h1v1h-1zM91 243h1v1h-1zM92 240h1v1h-1zM94 236h1v1h-1zM95 232h1v1h-1zM97 228h1v1h-1zM98 225h1v1h-1zM100 221h1v1h-1zM102 218h1v1h-1zM103 214h1v1h-1zM105 210h1v1h-1zM107 207h1v1h-1zM109 203h1v1h-1zM111 200h1v1h-1zM113 197h1v1h-1zM116 193h1v1h-1zM118 190h1v1h-1zM120 187h1v1h-1zM122 183h1v1h-1zM125 180h1v1h-1zM127 177h1v1h-1zM130 174h1v1h-1zM132 171h1v1h-1zM135 168h1v1h-1zM138 165h1v1h-1zM141 162h1v1h-1zM143 159h1v1h-1zM146 157h1v1h-1zM149 154h1v1h-1zM152 151h1v1h-1zM155 148h1v1h-1zM158 146h1v1h-1zM161 143h1v1h-1zM164 141h1v1h-1zM167 138h1v1h-1zM171 136h1v1h-1zM174 134h1v1h-1zM177 132h1v1h-1zM181 129h1v1h-1zM184 127h1v1h-1zM187 125h1v1h-1zM191 123h1v1h-1zM194 121h1v1h-1zM198 119h1v1h-1zM202 118h1v1h-1zM205 116h1v1h-1zM209 114h1v1h-1zM212 113h1v1h-1zM216 111h1v1h-1zM220 110h1v1h-1zM224 108h1v1h-1zM227 107h1v1h-1zM231 106h1v1h-1zM235 105h1v1h-1zM239 103h1v1h-1zM243 102h1v1h-1zM247 101h1v1h-1zM250 100h1v1h-1zM254 100h1v1h-1zM258 99h1v1h-1zM262 98h1v1h-1zM266 98h1v1h-1zM270 97h1v1h-1zM274 97h1v1h-1zM278 96h1v1h-1zM282 96h1v1h-1zM286 96h1v1h-1zM290 95h1v1h-1zM294 95h1v1h-1z" fill="#6a6a6a" shape-rendering="crispEdges"/>
<line x1="298.5" y1="63.5" x2="298.5" y2="565.5" stroke="#000" stroke-width="1" shape-rendering="crispEdges"/>
<line x1="47.5" y1="314.5" x2="549.5" y2="314.5" stroke="#000" stroke-width="1" shape-rendering="crispEdges"/>
<g>
<path d="M314.7 297.6h5M317.2 295.1v5" stroke="#60ff98" stroke-width="1" fill="none"/>
<path d="M314.9 291.8h5M317.4 289.3v5" stroke="#68ff90" stroke-width="1" fill="none"/>
<path d="M310.0 292.5h5M312.5 290.0v5" stroke="#68ff90" stroke-width="1" fill="none"/>
<path d="M324.3 297.0h5M326.8 294.5v5" stroke="#70ff88" stroke-width="1" fill="none"/>
<path d="M323.8 295.7h5M326.3 293.2v5" stroke="#58ffa0" stroke-width="1" fill="none"/>
<path d="M319.3 295.3h5M321.8 292.8v5" stroke="#68ff90" stroke-width="1" fill="none"/>
<path d="M304.8 300.0h5M307.3 297.5v5" stroke="#68ff90" stroke-width="1" fill="none"/>
<path d="M320.0 297.5h5M322.5 295.0v5" stroke="#60ff98" stroke-width="1" fill="none"/>
<path d="M304.7 281.8h5M307.2 279.3v5" stroke="#58ffa0" stroke-width="1" fill="none"/>
<path d="M310.3 290.7h5M312.8 288.2v5" stroke="#58ffa0" stroke-width="1" fill="none"/>
<path d="M318.6 293.7h5M321.1 291.2v5" stroke="#68ff90" stroke-width="1" fill="none"/>
<path d="M320.1 289.5h5M322.6 287.0v5" stroke="#58ffa0" stroke-width="1" fill="none"/>
<path d="M318.7 296.8h5M321.2 294.3v5" stroke="#58ffa0" stroke-width="1" fill="none"/>
<path d="M311.9 306.0h5M314.4 303.5v5" stroke="#70ff88" stroke-width="1" fill="none"/>
<path d="M320.4 302.4h5M322.9 299.9v5" stroke="#68ff90" stroke-width="1" fill="none"/>
<path d="M312.2 288.8h5M314.7 286.3v5" stroke="#58ffa0" stroke-width="1" fill="none"/>
<path d="M314.1 293.3h5M316.6 290.8v5" stroke="#70ff88" stroke-width="1" fill="none"/>
<path d="M320.9 295.7h5M323.4 293.2v5" stroke="#68ff90" stroke-width="1" fill="none"/>
<path d="M313.4 287.3h5M315.9 284.8v5" stroke="#58ffa0" stroke-width="1" fill="none"/>
<path d="M312.9 302.5h5M315.4 300.0v5" stroke="#68ff90" stroke-width="1" fill="none"/>
<path d="M310.8 295.7h5M313.3 293.2v5" stroke="#58ffa0" stroke-width="1" fill="none"/>
<path d="M319.5 283.6h5M322.0 281.1v5" stroke="#58ffa0" stroke-width="1" fill="none"/>
<path d="M316.8 303.1h5M319.3 300.6v5" stroke="#60ff98" stroke-width="1" fill="none"/>
<path d="M302.4 291.7h5M304.9 289.2v5" stroke="#68ff90" stroke-width="1" fill="none"/>
<path d="M315.8 288.3h5M318.3 285.8v5" stroke="#68ff90" stroke-width="1" fill="none"/>
<path d="M320.0 293.6h5M322.5 291.1v5" stroke="#70ff88" stroke-width="1" fill="none"/>
<path d="M306.2 299.8h5M308.7 297.3v5" stroke="#68ff90" stroke-width="1" fill="none"/>
<path d="M321.2 300.6h5M323.7 298.1v5" stroke="#58ffa0" stroke-width="1" fill="none"/>
<path d="M326.6 296.5h5M329.1 294.0v5" stroke="#58ffa0" stroke-width="1" fill="none"/>
<path d="M317.3 284.9h5M319.8 282.4v5" stroke="#70ff88" stroke-width="1" fill="none"/>
<path d="M320.8 289.7h5M323.3 287.2v5" stroke="#68ff90" stroke-width="1" fill="none"/>
<path d="M313.3 285.1h5M315.8 282.6v5" stroke="#58ffa0" stroke-width="1" fill="none"/>
<path d="M309.7 290.3h5M312.2 287.8v5" stroke="#60ff98" stroke-width="1" fill="none"/>
<path d="M325.5 279.8h5M328.0 277.3v5" stroke="#60ff98" stroke-width="1" fill="none"/>
<path d="M306.3 295.7h5M308.8 293.2v5" stroke="#58ffa0" stroke-width="1" fill="none"/>
<path d="M326.6 298.0h5M329.1 295.5v5" stroke="#70ff88" stroke-width="1" fill="none"/>
<path d="M303.2 276.4h5M305.7 273.9v5" stroke="#60ff98" stroke-width="1" fill="none"/>
<path d="M319.0 288.8h5M321.5 286.3v5" stroke="#58ffa0" stroke-width="1" fill="none"/>
<path d="M308.7 300.8h5M311.2 298.3v5" stroke="#70ff88" stroke-width="1" fill="none"/>
<path d="M324.2 295.1h5M326.7 292.6v5" stroke="#58ffa0" stroke-width="1" fill="none"/>
<path d="M294.4 303.0h5M296.9 300.5v5" stroke="#58ffa0" stroke-width="1" fill="none"/>
<path d="M305.8 296.0h5M308.3 293.5v5" stroke="#70ff88" stroke-width="1" fill="none"/>
<path d="M310.1 293.7h5M312.6 291.2v5" stroke="#58ffa0" stroke-width="1" fill="none"/>
<path d="M295.8 295.9h5M298.3 293.4v5" stroke="#68ff90" stroke-width="1" fill="none"/>
<path d="M290.4 303.7h5M292.9 301.2v5" stroke="#58ffa0" stroke-width="1" fill="none"/>
<path d="M291.2 305.6h5M293.7 303.1v5" stroke="#58ffa0" stroke-width="1" fill="none"/>
<path d="M295.2 301.6h5M297.7 299.1v5" stroke="#60ff98" stroke-width="1" fill="none"/>
<path d="M291.4 308.5h5M293.9 306.0v5" stroke="#70ff88" stroke-width="1" fill="none"/>
<path d="M294.2 291.3h5M296.7 288.8v5" stroke="#68ff90" stroke-width="1" fill="none"/>
<path d="M296.9 300.8h5M299.4 298.3v5" stroke="#68ff90" stroke-width="1" fill="none"/>
<path d="M313.2 292.8h5M315.7 290.3v5" stroke="#60ff98" stroke-width="1" fill="none"/>
<path d="M297.1 290.8h5M299.6 288.3v5" stroke="#58ffa0" stroke-width="1" fill="none"/>
<path d="M309.1 295.6h5M311.6 293.1v5" stroke="#58ffa0" stroke-width="1" fill="none"/>
<path d="M299.1 300.9h5M301.6 298.4v5" stroke="#58ffa0" stroke-width="1" fill="none"/>
<path d="M292.5 305.0h5M295.0 302.5v5" stroke="#58ffa0" stroke-width="1" fill="none"/>
<path d="M330.9 304.3h5M333.4 301.8v5" stroke="#60ff98" stroke-width="1" fill="none"/>
<path d="M338.8 307.6h5M341.3 305.1v5" stroke="#60ff98" stroke-width="1" fill="none"/>
<path d="M334.3 306.2h5M336.8 303.7v5" stroke="#68ff90" stroke-width="1" fill="none"/>
<path d="M338.6 302.5h5M341.1 300.0v5" stroke="#68ff90" stroke-width="1" fill="none"/>
<path d="M327.4 296.5h5M329.9 294.0v5" stroke="#58ffa0" stroke-width="1" fill="none"/>
<path d="M340.8 303.3h5M343.3 300.8v5" stroke="#70ff88" stroke-width="1" fill="none"/>
<path d="M370.0 278.0h5M372.5 275.5v5" stroke="#66ff96" stroke-width="1" fill="none"/>
<path d="M330.0 254.5h5M332.5 252.0v5" stroke="#66ff96" stroke-width="1" fill="none"/>
<path d="M254.0 311.2h5M256.5 308.8v5" stroke="#66ff96" stroke-width="1" fill="none"/>
<path d="M273.0 310.0h5M275.5 307.5v5" stroke="#66ff96" stroke-width="1" fill="none"/>
<path d="M273.0 312.5h5M275.5 310.0v5" stroke="#66ff96" stroke-width="1" fill="none"/>
<path d="M268.8 306.2h5M271.2 303.8v5" stroke="#66ff96" stroke-width="1" fill="none"/>
<path d="M276.8 305.5h5M279.2 303.0v5" stroke="#66ff96" stroke-width="1" fill="none"/>
<path d="M285.5 298.0h5M288.0 295.5v5" stroke="#66ff96" stroke-width="1" fill="none"/>
<path d="M290.0 296.2h5M292.5 293.8v5" stroke="#66ff96" stroke-width="1" fill="none"/>
<path d="M291.2 291.2h5M293.8 288.8v5" stroke="#66ff96" stroke-width="1" fill="none"/>
<path d="M291.8 301.2h5M294.2 298.8v5" stroke="#66ff96" stroke-width="1" fill="none"/>
<path d="M319.5 270.0h5M322.0 267.5v5" stroke="#66ff96" stroke-width="1" fill="none"/>
<path d="M322.5 270.0h5M325.0 267.5v5" stroke="#66ff96" stroke-width="1" fill="none"/>
<path d="M295.8 277.0h5M298.2 274.5v5" stroke="#66ff96" stroke-width="1" fill="none"/>
<path d="M308.8 320.0h5M311.2 317.5v5" stroke="#66ff96" stroke-width="1" fill="none"/>
<path d="M331.2 315.0h5M333.8 312.5v5" stroke="#66ff96" stroke-width="1" fill="none"/>
<path d="M336.2 316.2h5M338.8 313.8v5" stroke="#66ff96" stroke-width="1" fill="none"/>
<path d="M341.8 313.8h5M344.2 311.2v5" stroke="#66ff96" stroke-width="1" fill="none"/>
<circle cx="324.1" cy="293.3" r="1.45" fill="none" stroke="#99ff5f" stroke-width="0.9"/>
<circle cx="329.9" cy="294.2" r="1.45" fill="none" stroke="#adff4b" stroke-width="0.9"/>
<circle cx="325.2" cy="293.8" r="1.45" fill="none" stroke="#abff4d" stroke-width="0.9"/>
<circle cx="316.3" cy="297.7" r="1.45" fill="none" stroke="#a0ff58" stroke-width="0.9"/>
<circle cx="327.1" cy="293.8" r="1.45" fill="none" stroke="#a3ff55" stroke-width="0.9"/>
<circle cx="314.5" cy="287.7" r="1.45" fill="none" stroke="#87ff71" stroke-width="0.9"/>
<circle cx="326.6" cy="281.6" r="1.45" fill="none" stroke="#98ff60" stroke-width="0.9"/>
<circle cx="322.2" cy="296.3" r="1.45" fill="none" stroke="#a6ff52" stroke-width="0.9"/>
<circle cx="317.4" cy="299.4" r="1.45" fill="none" stroke="#9fff59" stroke-width="0.9"/>
<circle cx="325.4" cy="290.2" r="1.45" fill="none" stroke="#a5ff53" stroke-width="0.9"/>
<circle cx="324.4" cy="294.4" r="1.45" fill="none" stroke="#9aff5e" stroke-width="0.9"/>
<circle cx="323.5" cy="297.0" r="1.45" fill="none" stroke="#a4ff54" stroke-width="0.9"/>
<circle cx="320.2" cy="288.8" r="1.45" fill="none" stroke="#91ff67" stroke-width="0.9"/>
<circle cx="327.5" cy="291.1" r="1.45" fill="none" stroke="#a5ff53" stroke-width="0.9"/>
<circle cx="319.2" cy="295.9" r="1.45" fill="none" stroke="#94ff64" stroke-width="0.9"/>
<circle cx="329.3" cy="288.7" r="1.45" fill="none" stroke="#aaff4e" stroke-width="0.9"/>
<circle cx="317.1" cy="290.3" r="1.45" fill="none" stroke="#91ff67" stroke-width="0.9"/>
<circle cx="322.4" cy="289.5" r="1.45" fill="none" stroke="#98ff60" stroke-width="0.9"/>
<circle cx="329.0" cy="285.7" r="1.45" fill="none" stroke="#9dff5b" stroke-width="0.9"/>
<circle cx="328.4" cy="284.4" r="1.45" fill="none" stroke="#8aff6e" stroke-width="0.9"/>
<circle cx="319.6" cy="294.3" r="1.45" fill="none" stroke="#99ff5f" stroke-width="0.9"/>
<circle cx="327.9" cy="295.5" r="1.45" fill="none" stroke="#aaff4e" stroke-width="0.9"/>
<circle cx="324.5" cy="291.7" r="1.45" fill="none" stroke="#a5ff53" stroke-width="0.9"/>
<circle cx="323.7" cy="294.0" r="1.45" fill="none" stroke="#aaff4e" stroke-width="0.9"/>
<circle cx="322.2" cy="292.4" r="1.45" fill="none" stroke="#9aff5e" stroke-width="0.9"/>
<circle cx="325.5" cy="291.0" r="1.45" fill="none" stroke="#acff4c" stroke-width="0.9"/>
<circle cx="326.3" cy="293.9" r="1.45" fill="none" stroke="#a7ff51" stroke-width="0.9"/>
<circle cx="331.6" cy="292.7" r="1.45" fill="none" stroke="#a9ff4f" stroke-width="0.9"/>
<circle cx="321.2" cy="289.1" r="1.45" fill="none" stroke="#9bff5d" stroke-width="0.9"/>
<circle cx="322.9" cy="295.8" r="1.45" fill="none" stroke="#94ff64" stroke-width="0.9"/>
<circle cx="321.6" cy="293.0" r="1.45" fill="none" stroke="#93ff65" stroke-width="0.9"/>
<circle cx="330.9" cy="277.7" r="1.45" fill="none" stroke="#87ff71" stroke-width="0.9"/>
<circle cx="318.2" cy="292.3" r="1.45" fill="none" stroke="#8eff6a" stroke-width="0.9"/>
<circle cx="324.7" cy="292.2" r="1.45" fill="none" stroke="#99ff5f" stroke-width="0.9"/>
<circle cx="321.1" cy="294.4" r="1.45" fill="none" stroke="#99ff5f" stroke-width="0.9"/>
<circle cx="324.2" cy="288.3" r="1.45" fill="none" stroke="#97ff61" stroke-width="0.9"/>
<circle cx="333.4" cy="292.8" r="1.45" fill="none" stroke="#afff49" stroke-width="0.9"/>
<circle cx="320.6" cy="290.5" r="1.45" fill="none" stroke="#96ff62" stroke-width="0.9"/>
<circle cx="322.0" cy="290.7" r="1.45" fill="none" stroke="#9dff5b" stroke-width="0.9"/>
<circle cx="311.3" cy="288.5" r="1.45" fill="none" stroke="#86ff72" stroke-width="0.9"/>
<circle cx="327.3" cy="284.9" r="1.45" fill="none" stroke="#9fff59" stroke-width="0.9"/>
<circle cx="322.7" cy="296.0" r="1.45" fill="none" stroke="#b2ff46" stroke-width="0.9"/>
<circle cx="326.7" cy="298.8" r="1.45" fill="none" stroke="#b6ff42" stroke-width="0.9"/>
<circle cx="315.7" cy="289.2" r="1.45" fill="none" stroke="#94ff64" stroke-width="0.9"/>
<circle cx="321.5" cy="294.2" r="1.45" fill="none" stroke="#9bff5d" stroke-width="0.9"/>
<circle cx="327.7" cy="277.0" r="1.45" fill="none" stroke="#83ff75" stroke-width="0.9"/>
<circle cx="327.7" cy="283.5" r="1.45" fill="none" stroke="#8bff6d" stroke-width="0.9"/>
<circle cx="325.9" cy="283.2" r="1.45" fill="none" stroke="#95ff63" stroke-width="0.9"/>
<circle cx="323.8" cy="297.2" r="1.45" fill="none" stroke="#9fff59" stroke-width="0.9"/>
<circle cx="322.4" cy="292.0" r="1.45" fill="none" stroke="#92ff66" stroke-width="0.9"/>
<circle cx="326.4" cy="291.7" r="1.45" fill="none" stroke="#97ff61" stroke-width="0.9"/>
<circle cx="322.6" cy="299.0" r="1.45" fill="none" stroke="#aeff4a" stroke-width="0.9"/>
<circle cx="327.5" cy="289.5" r="1.45" fill="none" stroke="#9bff5d" stroke-width="0.9"/>
<circle cx="334.8" cy="285.0" r="1.45" fill="none" stroke="#9fff59" stroke-width="0.9"/>
<circle cx="326.9" cy="289.6" r="1.45" fill="none" stroke="#8bff6d" stroke-width="0.9"/>
<circle cx="323.6" cy="294.7" r="1.45" fill="none" stroke="#8fff69" stroke-width="0.9"/>
<circle cx="324.0" cy="294.3" r="1.45" fill="none" stroke="#a0ff58" stroke-width="0.9"/>
<circle cx="316.4" cy="283.2" r="1.45" fill="none" stroke="#7cff7c" stroke-width="0.9"/>
<circle cx="325.6" cy="286.0" r="1.45" fill="none" stroke="#8dff6b" stroke-width="0.9"/>
<circle cx="318.6" cy="283.4" r="1.45" fill="none" stroke="#84ff74" stroke-width="0.9"/>
<circle cx="328.4" cy="294.9" r="1.45" fill="none" stroke="#98ff60" stroke-width="0.9"/>
<circle cx="329.3" cy="286.1" r="1.45" fill="none" stroke="#a1ff57" stroke-width="0.9"/>
<circle cx="323.0" cy="285.1" r="1.45" fill="none" stroke="#9aff5e" stroke-width="0.9"/>
<circle cx="326.3" cy="299.3" r="1.45" fill="none" stroke="#b3ff45" stroke-width="0.9"/>
<circle cx="319.2" cy="299.1" r="1.45" fill="none" stroke="#b0ff48" stroke-width="0.9"/>
<circle cx="327.2" cy="290.1" r="1.45" fill="none" stroke="#b6ff42" stroke-width="0.9"/>
<circle cx="314.5" cy="298.3" r="1.45" fill="none" stroke="#9bff5d" stroke-width="0.9"/>
<circle cx="322.6" cy="287.9" r="1.45" fill="none" stroke="#9fff59" stroke-width="0.9"/>
<circle cx="324.7" cy="293.1" r="1.45" fill="none" stroke="#acff4c" stroke-width="0.9"/>
<circle cx="329.4" cy="285.7" r="1.45" fill="none" stroke="#a5ff53" stroke-width="0.9"/>
<circle cx="327.9" cy="298.7" r="1.45" fill="none" stroke="#bcff3c" stroke-width="0.9"/>
<circle cx="329.2" cy="290.1" r="1.45" fill="none" stroke="#98ff60" stroke-width="0.9"/>
<circle cx="319.8" cy="296.3" r="1.45" fill="none" stroke="#9fff59" stroke-width="0.9"/>
<circle cx="323.5" cy="291.6" r="1.45" fill="none" stroke="#9fff59" stroke-width="0.9"/>
<circle cx="329.1" cy="289.6" r="1.45" fill="none" stroke="#98ff60" stroke-width="0.9"/>
<circle cx="313.1" cy="289.0" r="1.45" fill="none" stroke="#80ff78" stroke-width="0.9"/>
<circle cx="315.0" cy="295.3" r="1.45" fill="none" stroke="#90ff68" stroke-width="0.9"/>
<circle cx="324.4" cy="287.8" r="1.45" fill="none" stroke="#86ff72" stroke-width="0.9"/>
<circle cx="323.0" cy="295.3" r="1.45" fill="none" stroke="#a9ff4f" stroke-width="0.9"/>
<circle cx="323.3" cy="297.9" r="1.45" fill="none" stroke="#a6ff52" stroke-width="0.9"/>
<circle cx="322.7" cy="296.4" r="1.45" fill="none" stroke="#b3ff45" stroke-width="0.9"/>
<circle cx="329.4" cy="299.4" r="1.45" fill="none" stroke="#abff4d" stroke-width="0.9"/>
<circle cx="320.1" cy="295.6" r="1.45" fill="none" stroke="#a7ff51" stroke-width="0.9"/>
<circle cx="314.9" cy="285.4" r="1.45" fill="none" stroke="#8aff6e" stroke-width="0.9"/>
<circle cx="314.6" cy="296.6" r="1.45" fill="none" stroke="#a1ff57" stroke-width="0.9"/>
<circle cx="317.7" cy="290.9" r="1.45" fill="none" stroke="#a2ff56" stroke-width="0.9"/>
<circle cx="322.2" cy="290.9" r="1.45" fill="none" stroke="#9cff5c" stroke-width="0.9"/>
<circle cx="320.5" cy="292.2" r="1.45" fill="none" stroke="#94ff64" stroke-width="0.9"/>
<circle cx="330.7" cy="291.2" r="1.45" fill="none" stroke="#afff49" stroke-width="0.9"/>
<circle cx="325.3" cy="296.2" r="1.45" fill="none" stroke="#b6ff42" stroke-width="0.9"/>
<circle cx="322.1" cy="284.4" r="1.45" fill="none" stroke="#90ff68" stroke-width="0.9"/>
<circle cx="320.6" cy="296.6" r="1.45" fill="none" stroke="#a9ff4f" stroke-width="0.9"/>
<circle cx="315.9" cy="287.9" r="1.45" fill="none" stroke="#84ff74" stroke-width="0.9"/>
<circle cx="327.3" cy="295.1" r="1.45" fill="none" stroke="#a3ff55" stroke-width="0.9"/>
<circle cx="323.0" cy="295.2" r="1.45" fill="none" stroke="#adff4b" stroke-width="0.9"/>
<circle cx="323.7" cy="284.9" r="1.45" fill="none" stroke="#81ff77" stroke-width="0.9"/>
<circle cx="316.3" cy="287.7" r="1.45" fill="none" stroke="#9aff5e" stroke-width="0.9"/>
<circle cx="327.0" cy="288.1" r="1.45" fill="none" stroke="#98ff60" stroke-width="0.9"/>
<circle cx="319.1" cy="287.0" r="1.45" fill="none" stroke="#85ff73" stroke-width="0.9"/>
<circle cx="316.4" cy="290.4" r="1.45" fill="none" stroke="#8eff6a" stroke-width="0.9"/>
<circle cx="317.9" cy="292.9" r="1.45" fill="none" stroke="#96ff62" stroke-width="0.9"/>
<circle cx="312.9" cy="292.7" r="1.45" fill="none" stroke="#8fff69" stroke-width="0.9"/>
<circle cx="320.2" cy="280.9" r="1.45" fill="none" stroke="#98ff60" stroke-width="0.9"/>
<circle cx="326.1" cy="289.6" r="1.45" fill="none" stroke="#9fff59" stroke-width="0.9"/>
<circle cx="313.4" cy="286.4" r="1.45" fill="none" stroke="#86ff72" stroke-width="0.9"/>
<circle cx="324.3" cy="288.6" r="1.45" fill="none" stroke="#a8ff50" stroke-width="0.9"/>
<circle cx="326.4" cy="294.9" r="1.45" fill="none" stroke="#a8ff50" stroke-width="0.9"/>
<circle cx="325.9" cy="292.7" r="1.45" fill="none" stroke="#99ff5f" stroke-width="0.9"/>
<circle cx="328.7" cy="294.4" r="1.45" fill="none" stroke="#9fff59" stroke-width="0.9"/>
<circle cx="324.9" cy="280.2" r="1.45" fill="none" stroke="#84ff74" stroke-width="0.9"/>
<circle cx="326.9" cy="297.8" r="1.45" fill="none" stroke="#adff4b" stroke-width="0.9"/>
<circle cx="321.7" cy="288.6" r="1.45" fill="none" stroke="#96ff62" stroke-width="0.9"/>
<circle cx="331.3" cy="281.9" r="1.45" fill="none" stroke="#9dff5b" stroke-width="0.9"/>
<circle cx="325.0" cy="303.6" r="1.45" fill="none" stroke="#bbff3d" stroke-width="0.9"/>
<circle cx="319.0" cy="294.6" r="1.45" fill="none" stroke="#a7ff51" stroke-width="0.9"/>
<circle cx="331.1" cy="290.4" r="1.45" fill="none" stroke="#b7ff41" stroke-width="0.9"/>
<circle cx="325.4" cy="295.7" r="1.45" fill="none" stroke="#a5ff53" stroke-width="0.9"/>
<circle cx="319.1" cy="290.5" r="1.45" fill="none" stroke="#92ff66" stroke-width="0.9"/>
<circle cx="324.3" cy="295.3" r="1.45" fill="none" stroke="#abff4d" stroke-width="0.9"/>
<circle cx="322.9" cy="290.0" r="1.45" fill="none" stroke="#a1ff57" stroke-width="0.9"/>
<circle cx="318.6" cy="289.1" r="1.45" fill="none" stroke="#94ff64" stroke-width="0.9"/>
<circle cx="326.8" cy="291.5" r="1.45" fill="none" stroke="#a1ff57" stroke-width="0.9"/>
<circle cx="319.3" cy="286.6" r="1.45" fill="none" stroke="#9cff5c" stroke-width="0.9"/>
<circle cx="334.5" cy="296.9" r="1.45" fill="none" stroke="#b9ff3f" stroke-width="0.9"/>
<circle cx="325.7" cy="277.5" r="1.45" fill="none" stroke="#86ff72" stroke-width="0.9"/>
<circle cx="325.7" cy="293.5" r="1.45" fill="none" stroke="#9dff5b" stroke-width="0.9"/>
<circle cx="330.2" cy="293.2" r="1.45" fill="none" stroke="#b2ff46" stroke-width="0.9"/>
<circle cx="322.7" cy="293.7" r="1.45" fill="none" stroke="#9cff5c" stroke-width="0.9"/>
<circle cx="314.6" cy="296.4" r="1.45" fill="none" stroke="#90ff68" stroke-width="0.9"/>
<circle cx="324.4" cy="287.3" r="1.45" fill="none" stroke="#87ff71" stroke-width="0.9"/>
<circle cx="328.7" cy="300.4" r="1.45" fill="none" stroke="#b4ff44" stroke-width="0.9"/>
<circle cx="317.0" cy="287.5" r="1.45" fill="none" stroke="#7fff79" stroke-width="0.9"/>
<circle cx="324.3" cy="292.0" r="1.45" fill="none" stroke="#99ff5f" stroke-width="0.9"/>
<circle cx="321.3" cy="285.9" r="1.45" fill="none" stroke="#93ff65" stroke-width="0.9"/>
<circle cx="332.1" cy="296.4" r="1.45" fill="none" stroke="#b1ff47" stroke-width="0.9"/>
<circle cx="317.9" cy="284.0" r="1.45" fill="none" stroke="#88ff70" stroke-width="0.9"/>
<circle cx="330.3" cy="296.1" r="1.45" fill="none" stroke="#bcff3c" stroke-width="0.9"/>
<circle cx="330.8" cy="295.2" r="1.45" fill="none" stroke="#a7ff51" stroke-width="0.9"/>
<circle cx="319.3" cy="292.4" r="1.45" fill="none" stroke="#98ff60" stroke-width="0.9"/>
<circle cx="313.7" cy="287.1" r="1.45" fill="none" stroke="#83ff75" stroke-width="0.9"/>
<circle cx="322.7" cy="293.7" r="1.45" fill="none" stroke="#9fff59" stroke-width="0.9"/>
<circle cx="319.9" cy="290.4" r="1.45" fill="none" stroke="#89ff6f" stroke-width="0.9"/>
<circle cx="325.0" cy="293.0" r="1.45" fill="none" stroke="#9cff5c" stroke-width="0.9"/>
<circle cx="325.7" cy="292.1" r="1.45" fill="none" stroke="#a1ff57" stroke-width="0.9"/>
<circle cx="321.6" cy="295.1" r="1.45" fill="none" stroke="#a3ff55" stroke-width="0.9"/>
<circle cx="323.2" cy="286.7" r="1.45" fill="none" stroke="#87ff71" stroke-width="0.9"/>
<circle cx="320.3" cy="291.0" r="1.45" fill="none" stroke="#94ff64" stroke-width="0.9"/>
<circle cx="322.5" cy="291.8" r="1.45" fill="none" stroke="#a2ff56" stroke-width="0.9"/>
<circle cx="323.0" cy="291.9" r="1.45" fill="none" stroke="#9bff5d" stroke-width="0.9"/>
<circle cx="322.4" cy="284.5" r="1.45" fill="none" stroke="#95ff63" stroke-width="0.9"/>
<circle cx="324.8" cy="296.5" r="1.45" fill="none" stroke="#a9ff4f" stroke-width="0.9"/>
<circle cx="324.9" cy="290.0" r="1.45" fill="none" stroke="#9aff5e" stroke-width="0.9"/>
<circle cx="324.9" cy="286.0" r="1.45" fill="none" stroke="#95ff63" stroke-width="0.9"/>
<circle cx="314.8" cy="291.3" r="1.45" fill="none" stroke="#7eff7a" stroke-width="0.9"/>
<circle cx="319.0" cy="294.8" r="1.45" fill="none" stroke="#9dff5b" stroke-width="0.9"/>
<circle cx="318.3" cy="277.3" r="1.45" fill="none" stroke="#7cff7c" stroke-width="0.9"/>
<circle cx="318.5" cy="299.2" r="1.45" fill="none" stroke="#9dff5b" stroke-width="0.9"/>
<circle cx="321.4" cy="283.9" r="1.45" fill="none" stroke="#8cff6c" stroke-width="0.9"/>
<circle cx="319.7" cy="293.7" r="1.45" fill="none" stroke="#9aff5e" stroke-width="0.9"/>
<circle cx="325.1" cy="291.9" r="1.45" fill="none" stroke="#91ff67" stroke-width="0.9"/>
<circle cx="329.4" cy="294.7" r="1.45" fill="none" stroke="#b3ff45" stroke-width="0.9"/>
<circle cx="322.9" cy="294.1" r="1.45" fill="none" stroke="#a2ff56" stroke-width="0.9"/>
<circle cx="330.1" cy="296.1" r="1.45" fill="none" stroke="#b5ff43" stroke-width="0.9"/>
<circle cx="327.4" cy="285.4" r="1.45" fill="none" stroke="#9bff5d" stroke-width="0.9"/>
<circle cx="322.4" cy="294.8" r="1.45" fill="none" stroke="#aaff4e" stroke-width="0.9"/>
<circle cx="321.7" cy="296.6" r="1.45" fill="none" stroke="#a6ff52" stroke-width="0.9"/>
<circle cx="325.6" cy="295.7" r="1.45" fill="none" stroke="#a3ff55" stroke-width="0.9"/>
<circle cx="322.1" cy="304.2" r="1.45" fill="none" stroke="#a2ff56" stroke-width="0.9"/>
<circle cx="328.3" cy="289.9" r="1.45" fill="none" stroke="#9aff5e" stroke-width="0.9"/>
<circle cx="323.4" cy="304.5" r="1.45" fill="none" stroke="#b0ff48" stroke-width="0.9"/>
<circle cx="320.3" cy="300.4" r="1.45" fill="none" stroke="#9fff59" stroke-width="0.9"/>
<circle cx="330.8" cy="293.1" r="1.45" fill="none" stroke="#acff4c" stroke-width="0.9"/>
<circle cx="313.7" cy="294.6" r="1.45" fill="none" stroke="#91ff67" stroke-width="0.9"/>
<circle cx="325.9" cy="302.6" r="1.45" fill="none" stroke="#bcff3c" stroke-width="0.9"/>
<circle cx="329.3" cy="293.2" r="1.45" fill="none" stroke="#aeff4a" stroke-width="0.9"/>
<circle cx="329.8" cy="297.6" r="1.45" fill="none" stroke="#b2ff46" stroke-width="0.9"/>
<circle cx="324.6" cy="293.5" r="1.45" fill="none" stroke="#abff4d" stroke-width="0.9"/>
<circle cx="321.1" cy="298.8" r="1.45" fill="none" stroke="#adff4b" stroke-width="0.9"/>
<circle cx="314.6" cy="287.7" r="1.45" fill="none" stroke="#92ff66" stroke-width="0.9"/>
<circle cx="323.0" cy="280.6" r="1.45" fill="none" stroke="#7cff7c" stroke-width="0.9"/>
<circle cx="319.5" cy="275.9" r="1.45" fill="none" stroke="#7cff7c" stroke-width="0.9"/>
<circle cx="317.5" cy="297.8" r="1.45" fill="none" stroke="#94ff64" stroke-width="0.9"/>
<circle cx="327.5" cy="292.5" r="1.45" fill="none" stroke="#99ff5f" stroke-width="0.9"/>
<circle cx="321.1" cy="281.0" r="1.45" fill="none" stroke="#84ff74" stroke-width="0.9"/>
<circle cx="337.6" cy="297.4" r="1.45" fill="none" stroke="#bcff3c" stroke-width="0.9"/>
<circle cx="331.7" cy="285.5" r="1.45" fill="none" stroke="#a8ff50" stroke-width="0.9"/>
<circle cx="321.5" cy="277.5" r="1.45" fill="none" stroke="#85ff73" stroke-width="0.9"/>
<circle cx="329.2" cy="300.9" r="1.45" fill="none" stroke="#b3ff45" stroke-width="0.9"/>
<circle cx="307.8" cy="292.6" r="1.45" fill="none" stroke="#92ff66" stroke-width="0.9"/>
<circle cx="328.0" cy="278.0" r="1.45" fill="none" stroke="#9aff5e" stroke-width="0.9"/>
<circle cx="308.4" cy="283.9" r="1.45" fill="none" stroke="#7cff7c" stroke-width="0.9"/>
<circle cx="318.0" cy="281.1" r="1.45" fill="none" stroke="#7cff7c" stroke-width="0.9"/>
<circle cx="323.3" cy="295.1" r="1.45" fill="none" stroke="#acff4c" stroke-width="0.9"/>
<circle cx="328.1" cy="299.0" r="1.45" fill="none" stroke="#afff49" stroke-width="0.9"/>
<circle cx="335.0" cy="302.9" r="1.45" fill="none" stroke="#bcff3c" stroke-width="0.9"/>
<circle cx="312.5" cy="288.7" r="1.45" fill="none" stroke="#8cff6c" stroke-width="0.9"/>
<circle cx="314.5" cy="283.8" r="1.45" fill="none" stroke="#91ff67" stroke-width="0.9"/>
<circle cx="322.3" cy="293.0" r="1.45" fill="none" stroke="#a7ff51" stroke-width="0.9"/>
<circle cx="326.9" cy="279.5" r="1.45" fill="none" stroke="#95ff63" stroke-width="0.9"/>
<circle cx="313.1" cy="292.8" r="1.45" fill="none" stroke="#88ff70" stroke-width="0.9"/>
<circle cx="321.4" cy="290.4" r="1.45" fill="none" stroke="#8dff6b" stroke-width="0.9"/>
<circle cx="322.5" cy="286.5" r="1.45" fill="none" stroke="#97ff61" stroke-width="0.9"/>
<circle cx="328.6" cy="296.0" r="1.45" fill="none" stroke="#a6ff52" stroke-width="0.9"/>
<circle cx="322.3" cy="287.3" r="1.45" fill="none" stroke="#97ff61" stroke-width="0.9"/>
<circle cx="321.6" cy="269.9" r="1.45" fill="none" stroke="#7cff7c" stroke-width="0.9"/>
<circle cx="315.1" cy="293.3" r="1.45" fill="none" stroke="#98ff60" stroke-width="0.9"/>
<circle cx="311.0" cy="294.7" r="1.45" fill="none" stroke="#9bff5d" stroke-width="0.9"/>
<circle cx="324.2" cy="281.3" r="1.45" fill="none" stroke="#9eff5a" stroke-width="0.9"/>
<circle cx="321.0" cy="290.3" r="1.45" fill="none" stroke="#89ff6f" stroke-width="0.9"/>
<circle cx="326.7" cy="298.2" r="1.45" fill="none" stroke="#9eff5a" stroke-width="0.9"/>
<circle cx="322.7" cy="285.8" r="1.45" fill="none" stroke="#98ff60" stroke-width="0.9"/>
<circle cx="321.8" cy="292.4" r="1.45" fill="none" stroke="#a3ff55" stroke-width="0.9"/>
<circle cx="328.9" cy="295.5" r="1.45" fill="none" stroke="#a6ff52" stroke-width="0.9"/>
<circle cx="317.2" cy="281.5" r="1.45" fill="none" stroke="#7cff7c" stroke-width="0.9"/>
<circle cx="320.0" cy="286.7" r="1.45" fill="none" stroke="#99ff5f" stroke-width="0.9"/>
<circle cx="314.1" cy="292.0" r="1.45" fill="none" stroke="#92ff66" stroke-width="0.9"/>
<circle cx="319.1" cy="293.9" r="1.45" fill="none" stroke="#8aff6e" stroke-width="0.9"/>
<circle cx="327.2" cy="289.5" r="1.45" fill="none" stroke="#9bff5d" stroke-width="0.9"/>
<circle cx="341.6" cy="290.3" r="1.45" fill="none" stroke="#a9ff4f" stroke-width="0.9"/>
<circle cx="331.8" cy="294.0" r="1.45" fill="none" stroke="#afff49" stroke-width="0.9"/>
<circle cx="331.9" cy="272.8" r="1.45" fill="none" stroke="#81ff77" stroke-width="0.9"/>
<circle cx="317.0" cy="295.1" r="1.45" fill="none" stroke="#a1ff57" stroke-width="0.9"/>
<circle cx="327.8" cy="312.9" r="1.45" fill="none" stroke="#bcff3c" stroke-width="0.9"/>
<circle cx="325.6" cy="303.9" r="1.45" fill="none" stroke="#b0ff48" stroke-width="0.9"/>
<circle cx="329.1" cy="301.1" r="1.45" fill="none" stroke="#b6ff42" stroke-width="0.9"/>
<circle cx="327.1" cy="291.7" r="1.45" fill="none" stroke="#a8ff50" stroke-width="0.9"/>
<circle cx="327.1" cy="283.8" r="1.45" fill="none" stroke="#8bff6d" stroke-width="0.9"/>
<circle cx="332.5" cy="284.4" r="1.45" fill="none" stroke="#91ff67" stroke-width="0.9"/>
<circle cx="325.0" cy="311.0" r="1.45" fill="none" stroke="#bbff3d" stroke-width="0.9"/>
<circle cx="321.2" cy="293.2" r="1.45" fill="none" stroke="#9bff5d" stroke-width="0.9"/>
<circle cx="332.3" cy="293.2" r="1.45" fill="none" stroke="#abff4d" stroke-width="0.9"/>
<circle cx="316.5" cy="295.2" r="1.45" fill="none" stroke="#8aff6e" stroke-width="0.9"/>
<circle cx="327.7" cy="299.0" r="1.45" fill="none" stroke="#a6ff52" stroke-width="0.9"/>
<circle cx="316.8" cy="307.9" r="1.45" fill="none" stroke="#a8ff50" stroke-width="0.9"/>
<circle cx="336.3" cy="293.2" r="1.45" fill="none" stroke="#bcff3c" stroke-width="0.9"/>
<circle cx="325.1" cy="289.4" r="1.45" fill="none" stroke="#98ff60" stroke-width="0.9"/>
<circle cx="334.3" cy="287.0" r="1.45" fill="none" stroke="#9cff5c" stroke-width="0.9"/>
<circle cx="328.4" cy="288.9" r="1.45" fill="none" stroke="#99ff5f" stroke-width="0.9"/>
<circle cx="317.4" cy="299.1" r="1.45" fill="none" stroke="#a3ff55" stroke-width="0.9"/>
<circle cx="333.7" cy="292.9" r="1.45" fill="none" stroke="#bcff3c" stroke-width="0.9"/>
<circle cx="317.6" cy="299.9" r="1.45" fill="none" stroke="#a2ff56" stroke-width="0.9"/>
<circle cx="322.6" cy="295.6" r="1.45" fill="none" stroke="#b6ff42" stroke-width="0.9"/>
<circle cx="335.2" cy="302.6" r="1.45" fill="none" stroke="#bcff3c" stroke-width="0.9"/>
<circle cx="318.8" cy="312.4" r="1.45" fill="none" stroke="#bbff3d" stroke-width="0.9"/>
<circle cx="323.0" cy="299.7" r="1.45" fill="none" stroke="#a7ff51" stroke-width="0.9"/>
<circle cx="317.8" cy="292.6" r="1.45" fill="none" stroke="#92ff66" stroke-width="0.9"/>
<circle cx="309.0" cy="308.2" r="1.45" fill="none" stroke="#a9ff4f" stroke-width="0.9"/>
<circle cx="333.9" cy="282.7" r="1.45" fill="none" stroke="#9eff5a" stroke-width="0.9"/>
<circle cx="311.0" cy="279.2" r="1.45" fill="none" stroke="#7cff7c" stroke-width="0.9"/>
<circle cx="332.4" cy="289.1" r="1.45" fill="none" stroke="#aaff4e" stroke-width="0.9"/>
<circle cx="322.5" cy="290.3" r="1.45" fill="none" stroke="#98ff60" stroke-width="0.9"/>
<circle cx="322.0" cy="283.8" r="1.45" fill="none" stroke="#8fff69" stroke-width="0.9"/>
<circle cx="323.2" cy="280.8" r="1.45" fill="none" stroke="#8dff6b" stroke-width="0.9"/>
<circle cx="322.4" cy="295.6" r="1.45" fill="none" stroke="#9eff5a" stroke-width="0.9"/>
<circle cx="326.7" cy="291.0" r="1.45" fill="none" stroke="#a6ff52" stroke-width="0.9"/>
<circle cx="315.8" cy="294.4" r="1.45" fill="none" stroke="#90ff68" stroke-width="0.9"/>
<circle cx="319.1" cy="306.3" r="1.45" fill="none" stroke="#bcff3c" stroke-width="0.9"/>
<circle cx="329.1" cy="292.0" r="1.45" fill="none" stroke="#a6ff52" stroke-width="0.9"/>
<circle cx="319.2" cy="287.0" r="1.45" fill="none" stroke="#89ff6f" stroke-width="0.9"/>
<circle cx="315.5" cy="290.0" r="1.45" fill="none" stroke="#90ff68" stroke-width="0.9"/>
<circle cx="325.4" cy="297.4" r="1.45" fill="none" stroke="#b0ff48" stroke-width="0.9"/>
<circle cx="327.6" cy="310.8" r="1.45" fill="none" stroke="#bcff3c" stroke-width="0.9"/>
<circle cx="317.4" cy="293.1" r="1.45" fill="none" stroke="#9cff5c" stroke-width="0.9"/>
<circle cx="345.4" cy="277.1" r="1.45" fill="none" stroke="#a0ff58" stroke-width="0.9"/>
<circle cx="318.8" cy="294.4" r="1.45" fill="none" stroke="#9bff5d" stroke-width="0.9"/>
<circle cx="324.2" cy="296.5" r="1.45" fill="none" stroke="#a5ff53" stroke-width="0.9"/>
<circle cx="321.1" cy="296.1" r="1.45" fill="none" stroke="#a2ff56" stroke-width="0.9"/>
<circle cx="323.4" cy="299.6" r="1.45" fill="none" stroke="#baff3e" stroke-width="0.9"/>
<circle cx="307.9" cy="285.5" r="1.45" fill="none" stroke="#7cff7c" stroke-width="0.9"/>
<circle cx="323.0" cy="284.2" r="1.45" fill="none" stroke="#84ff74" stroke-width="0.9"/>
<circle cx="314.6" cy="298.3" r="1.45" fill="none" stroke="#93ff65" stroke-width="0.9"/>
<circle cx="317.8" cy="298.4" r="1.45" fill="none" stroke="#94ff64" stroke-width="0.9"/>
<circle cx="329.0" cy="295.6" r="1.45" fill="none" stroke="#a5ff53" stroke-width="0.9"/>
<circle cx="327.1" cy="292.1" r="1.45" fill="none" stroke="#98ff60" stroke-width="0.9"/>
<circle cx="311.7" cy="292.7" r="1.45" fill="none" stroke="#96ff62" stroke-width="0.9"/>
<circle cx="326.6" cy="288.5" r="1.45" fill="none" stroke="#93ff65" stroke-width="0.9"/>
<circle cx="322.2" cy="299.4" r="1.45" fill="none" stroke="#a3ff55" stroke-width="0.9"/>
<circle cx="316.0" cy="298.4" r="1.45" fill="none" stroke="#9bff5d" stroke-width="0.9"/>
<circle cx="337.9" cy="288.3" r="1.45" fill="none" stroke="#abff4d" stroke-width="0.9"/>
<circle cx="324.2" cy="291.7" r="1.45" fill="none" stroke="#a1ff57" stroke-width="0.9"/>
<circle cx="318.9" cy="295.9" r="1.45" fill="none" stroke="#98ff60" stroke-width="0.9"/>
<circle cx="316.6" cy="289.9" r="1.45" fill="none" stroke="#92ff66" stroke-width="0.9"/>
<circle cx="313.4" cy="293.9" r="1.45" fill="none" stroke="#8dff6b" stroke-width="0.9"/>
<circle cx="307.3" cy="302.6" r="1.45" fill="none" stroke="#8aff6e" stroke-width="0.9"/>
<circle cx="316.6" cy="283.5" r="1.45" fill="none" stroke="#84ff74" stroke-width="0.9"/>
<circle cx="316.1" cy="293.2" r="1.45" fill="none" stroke="#9dff5b" stroke-width="0.9"/>
<circle cx="315.1" cy="296.2" r="1.45" fill="none" stroke="#98ff60" stroke-width="0.9"/>
<circle cx="308.3" cy="292.7" r="1.45" fill="none" stroke="#85ff73" stroke-width="0.9"/>
<circle cx="318.7" cy="290.6" r="1.45" fill="none" stroke="#99ff5f" stroke-width="0.9"/>
<circle cx="309.9" cy="285.8" r="1.45" fill="none" stroke="#7cff7c" stroke-width="0.9"/>
<circle cx="309.2" cy="296.0" r="1.45" fill="none" stroke="#a0ff58" stroke-width="0.9"/>
<circle cx="319.4" cy="296.6" r="1.45" fill="none" stroke="#a1ff57" stroke-width="0.9"/>
<circle cx="314.4" cy="307.4" r="1.45" fill="none" stroke="#a1ff57" stroke-width="0.9"/>
<circle cx="311.7" cy="290.0" r="1.45" fill="none" stroke="#87ff71" stroke-width="0.9"/>
<circle cx="315.3" cy="297.3" r="1.45" fill="none" stroke="#a7ff51" stroke-width="0.9"/>
<circle cx="309.9" cy="287.0" r="1.45" fill="none" stroke="#7cff7c" stroke-width="0.9"/>
<circle cx="314.5" cy="295.5" r="1.45" fill="none" stroke="#96ff62" stroke-width="0.9"/>
<circle cx="308.9" cy="292.8" r="1.45" fill="none" stroke="#8bff6d" stroke-width="0.9"/>
<circle cx="311.6" cy="296.8" r="1.45" fill="none" stroke="#9eff5a" stroke-width="0.9"/>
<circle cx="313.1" cy="293.5" r="1.45" fill="none" stroke="#82ff76" stroke-width="0.9"/>
<circle cx="312.3" cy="300.3" r="1.45" fill="none" stroke="#a1ff57" stroke-width="0.9"/>
<circle cx="318.4" cy="291.8" r="1.45" fill="none" stroke="#99ff5f" stroke-width="0.9"/>
<circle cx="316.5" cy="289.5" r="1.45" fill="none" stroke="#91ff67" stroke-width="0.9"/>
<circle cx="313.8" cy="298.5" r="1.45" fill="none" stroke="#a8ff50" stroke-width="0.9"/>
<circle cx="318.8" cy="291.7" r="1.45" fill="none" stroke="#9bff5d" stroke-width="0.9"/>
<circle cx="313.2" cy="295.2" r="1.45" fill="none" stroke="#93ff65" stroke-width="0.9"/>
<circle cx="308.3" cy="294.1" r="1.45" fill="none" stroke="#83ff75" stroke-width="0.9"/>
<circle cx="311.1" cy="296.2" r="1.45" fill="none" stroke="#a0ff58" stroke-width="0.9"/>
<circle cx="309.5" cy="282.1" r="1.45" fill="none" stroke="#7cff7c" stroke-width="0.9"/>
<circle cx="313.6" cy="295.6" r="1.45" fill="none" stroke="#97ff61" stroke-width="0.9"/>
<circle cx="311.6" cy="299.3" r="1.45" fill="none" stroke="#98ff60" stroke-width="0.9"/>
<circle cx="312.5" cy="290.4" r="1.45" fill="none" stroke="#8bff6d" stroke-width="0.9"/>
<circle cx="315.2" cy="284.6" r="1.45" fill="none" stroke="#86ff72" stroke-width="0.9"/>
<circle cx="311.1" cy="293.9" r="1.45" fill="none" stroke="#88ff70" stroke-width="0.9"/>
<circle cx="316.5" cy="293.0" r="1.45" fill="none" stroke="#8eff6a" stroke-width="0.9"/>
<circle cx="313.7" cy="292.0" r="1.45" fill="none" stroke="#9aff5e" stroke-width="0.9"/>
<circle cx="315.3" cy="292.2" r="1.45" fill="none" stroke="#7cff7c" stroke-width="0.9"/>
<circle cx="302.9" cy="300.3" r="1.45" fill="none" stroke="#96ff62" stroke-width="0.9"/>
<circle cx="307.4" cy="296.9" r="1.45" fill="none" stroke="#93ff65" stroke-width="0.9"/>
<circle cx="306.3" cy="302.4" r="1.45" fill="none" stroke="#a1ff57" stroke-width="0.9"/>
<circle cx="295.8" cy="300.5" r="1.45" fill="none" stroke="#92ff66" stroke-width="0.9"/>
<circle cx="310.0" cy="293.0" r="1.45" fill="none" stroke="#87ff71" stroke-width="0.9"/>
<circle cx="298.8" cy="299.5" r="1.45" fill="none" stroke="#80ff78" stroke-width="0.9"/>
<circle cx="308.1" cy="305.3" r="1.45" fill="none" stroke="#98ff60" stroke-width="0.9"/>
<circle cx="310.6" cy="289.3" r="1.45" fill="none" stroke="#86ff72" stroke-width="0.9"/>
<circle cx="318.1" cy="280.0" r="1.45" fill="none" stroke="#87ff71" stroke-width="0.9"/>
<circle cx="295.6" cy="301.8" r="1.45" fill="none" stroke="#8bff6d" stroke-width="0.9"/>
<circle cx="296.0" cy="300.2" r="1.45" fill="none" stroke="#87ff71" stroke-width="0.9"/>
<circle cx="299.9" cy="295.6" r="1.45" fill="none" stroke="#8dff6b" stroke-width="0.9"/>
<circle cx="301.0" cy="300.8" r="1.45" fill="none" stroke="#88ff70" stroke-width="0.9"/>
<circle cx="312.3" cy="293.4" r="1.45" fill="none" stroke="#8bff6d" stroke-width="0.9"/>
<circle cx="312.3" cy="294.2" r="1.45" fill="none" stroke="#88ff70" stroke-width="0.9"/>
<circle cx="297.5" cy="299.6" r="1.45" fill="none" stroke="#8cff6c" stroke-width="0.9"/>
<circle cx="304.9" cy="303.9" r="1.45" fill="none" stroke="#9dff5b" stroke-width="0.9"/>
<circle cx="299.8" cy="302.1" r="1.45" fill="none" stroke="#7fff79" stroke-width="0.9"/>
<circle cx="305.4" cy="304.2" r="1.45" fill="none" stroke="#a6ff52" stroke-width="0.9"/>
<circle cx="296.9" cy="299.4" r="1.45" fill="none" stroke="#9fff59" stroke-width="0.9"/>
<circle cx="317.9" cy="302.7" r="1.45" fill="none" stroke="#a4ff54" stroke-width="0.9"/>
<circle cx="289.6" cy="307.7" r="1.45" fill="none" stroke="#94ff64" stroke-width="0.9"/>
<circle cx="312.5" cy="282.4" r="1.45" fill="none" stroke="#7cff7c" stroke-width="0.9"/>
<circle cx="333.7" cy="300.9" r="1.45" fill="none" stroke="#bcff3c" stroke-width="0.9"/>
<circle cx="337.9" cy="306.4" r="1.45" fill="none" stroke="#bcff3c" stroke-width="0.9"/>
<circle cx="330.7" cy="298.8" r="1.45" fill="none" stroke="#bcff3c" stroke-width="0.9"/>
<circle cx="340.0" cy="303.8" r="1.45" fill="none" stroke="#bcff3c" stroke-width="0.9"/>
<circle cx="337.5" cy="307.9" r="1.45" fill="none" stroke="#bcff3c" stroke-width="0.9"/>
<circle cx="337.6" cy="296.8" r="1.45" fill="none" stroke="#bcff3c" stroke-width="0.9"/>
<circle cx="339.6" cy="306.8" r="1.45" fill="none" stroke="#bcff3c" stroke-width="0.9"/>
<circle cx="334.7" cy="301.7" r="1.45" fill="none" stroke="#afff49" stroke-width="0.9"/>
<circle cx="334.4" cy="298.2" r="1.45" fill="none" stroke="#bcff3c" stroke-width="0.9"/>
<circle cx="332.1" cy="316.2" r="1.45" fill="none" stroke="#bcff3c" stroke-width="0.9"/>
<circle cx="332.1" cy="301.4" r="1.45" fill="none" stroke="#bcff3c" stroke-width="0.9"/>
<circle cx="346.0" cy="289.5" r="1.45" fill="none" stroke="#abff4d" stroke-width="0.9"/>
<circle cx="338.4" cy="311.9" r="1.45" fill="none" stroke="#bcff3c" stroke-width="0.9"/>
<circle cx="345.7" cy="303.9" r="1.45" fill="none" stroke="#bcff3c" stroke-width="0.9"/>
<circle cx="338.0" cy="298.4" r="1.45" fill="none" stroke="#bcff3c" stroke-width="0.9"/>
<circle cx="329.9" cy="301.0" r="1.45" fill="none" stroke="#aaff4e" stroke-width="0.9"/>
<circle cx="333.5" cy="303.4" r="1.45" fill="none" stroke="#bcff3c" stroke-width="0.9"/>
<circle cx="325.8" cy="301.8" r="1.45" fill="none" stroke="#a9ff4f" stroke-width="0.9"/>
<circle cx="327.9" cy="304.1" r="1.45" fill="none" stroke="#baff3e" stroke-width="0.9"/>
<circle cx="340.0" cy="301.1" r="1.45" fill="none" stroke="#bcff3c" stroke-width="0.9"/>
<circle cx="336.7" cy="299.7" r="1.45" fill="none" stroke="#b9ff3f" stroke-width="0.9"/>
<circle cx="340.8" cy="295.0" r="1.45" fill="none" stroke="#aeff4a" stroke-width="0.9"/>
<circle cx="336.9" cy="308.9" r="1.45" fill="none" stroke="#bcff3c" stroke-width="0.9"/>
<circle cx="334.3" cy="305.4" r="1.45" fill="none" stroke="#bcff3c" stroke-width="0.9"/>
<circle cx="334.5" cy="291.9" r="1.45" fill="none" stroke="#9dff5b" stroke-width="0.9"/>
<circle cx="329.0" cy="300.0" r="1.45" fill="none" stroke="#b4ff44" stroke-width="0.9"/>
<circle cx="337.2" cy="301.2" r="1.45" fill="none" stroke="#bcff3c" stroke-width="0.9"/>
<circle cx="330.0" cy="301.1" r="1.45" fill="none" stroke="#afff49" stroke-width="0.9"/>
<circle cx="330.8" cy="307.0" r="1.45" fill="none" stroke="#bcff3c" stroke-width="0.9"/>
<circle cx="333.3" cy="298.5" r="1.45" fill="none" stroke="#b0ff48" stroke-width="0.9"/>
<circle cx="342.2" cy="304.6" r="1.45" fill="none" stroke="#bcff3c" stroke-width="0.9"/>
<circle cx="336.7" cy="312.8" r="1.45" fill="none" stroke="#bcff3c" stroke-width="0.9"/>
<circle cx="333.3" cy="304.4" r="1.45" fill="none" stroke="#bcff3c" stroke-width="0.9"/>
<circle cx="337.8" cy="305.3" r="1.45" fill="none" stroke="#bcff3c" stroke-width="0.9"/>
<circle cx="340.1" cy="306.7" r="1.45" fill="none" stroke="#bcff3c" stroke-width="0.9"/>
<circle cx="342.2" cy="305.5" r="1.45" fill="none" stroke="#bcff3c" stroke-width="0.9"/>
<circle cx="335.2" cy="294.0" r="1.45" fill="none" stroke="#aeff4a" stroke-width="0.9"/>
<circle cx="341.0" cy="305.7" r="1.45" fill="none" stroke="#bcff3c" stroke-width="0.9"/>
<circle cx="338.3" cy="302.6" r="1.45" fill="none" stroke="#bcff3c" stroke-width="0.9"/>
<circle cx="373.0" cy="223.8" r="1.45" fill="none" stroke="#7cff7c" stroke-width="0.9"/>
<circle cx="395.0" cy="258.8" r="1.45" fill="none" stroke="#bcff3c" stroke-width="0.9"/>
<circle cx="340.8" cy="260.8" r="1.45" fill="none" stroke="#7cff7c" stroke-width="0.9"/>
<circle cx="330.8" cy="262.0" r="1.45" fill="none" stroke="#7cff7c" stroke-width="0.9"/>
<circle cx="331.8" cy="267.0" r="1.45" fill="none" stroke="#83ff75" stroke-width="0.9"/>
<circle cx="331.0" cy="273.0" r="1.45" fill="none" stroke="#81ff77" stroke-width="0.9"/>
<circle cx="285.0" cy="274.5" r="1.45" fill="none" stroke="#7cff7c" stroke-width="0.9"/>
<circle cx="288.8" cy="282.0" r="1.45" fill="none" stroke="#7cff7c" stroke-width="0.9"/>
<circle cx="352.5" cy="280.0" r="1.45" fill="none" stroke="#b1ff47" stroke-width="0.9"/>
<circle cx="355.8" cy="297.8" r="1.45" fill="none" stroke="#bcff3c" stroke-width="0.9"/>
<circle cx="362.8" cy="312.8" r="1.45" fill="none" stroke="#bcff3c" stroke-width="0.9"/>
<circle cx="236.8" cy="340.8" r="1.45" fill="none" stroke="#82ff76" stroke-width="0.9"/>
<circle cx="275.0" cy="303.8" r="1.45" fill="none" stroke="#7cff7c" stroke-width="0.9"/>
<circle cx="287.5" cy="302.0" r="1.45" fill="none" stroke="#7cff7c" stroke-width="0.9"/>
<circle cx="290.0" cy="302.5" r="1.45" fill="none" stroke="#86ff72" stroke-width="0.9"/>
<circle cx="309.5" cy="268.0" r="1.45" fill="none" stroke="#7cff7c" stroke-width="0.9"/>
<circle cx="312.0" cy="270.0" r="1.45" fill="none" stroke="#7cff7c" stroke-width="0.9"/>
<circle cx="310.5" cy="272.0" r="1.45" fill="none" stroke="#7cff7c" stroke-width="0.9"/>
<circle cx="313.0" cy="317.5" r="1.45" fill="none" stroke="#bbff3d" stroke-width="0.9"/>
<circle cx="308.8" cy="312.5" r="1.45" fill="none" stroke="#a6ff52" stroke-width="0.9"/>
<circle cx="311.0" cy="316.0" r="1.45" fill="none" stroke="#a3ff55" stroke-width="0.9"/>
<circle cx="335.5" cy="319.2" r="1.45" fill="none" stroke="#bcff3c" stroke-width="0.9"/>
<circle cx="342.5" cy="318.2" r="1.45" fill="none" stroke="#bcff3c" stroke-width="0.9"/>
<circle cx="323.8" cy="313.8" r="1.45" fill="none" stroke="#baff3e" stroke-width="0.9"/>
<circle cx="345.0" cy="296.2" r="1.45" fill="none" stroke="#bcff3c" stroke-width="0.9"/>
<circle cx="348.8" cy="296.2" r="1.45" fill="none" stroke="#bcff3c" stroke-width="0.9"/>
<circle cx="347.0" cy="301.2" r="1.45" fill="none" stroke="#bcff3c" stroke-width="0.9"/>
<circle cx="348.8" cy="303.8" r="1.45" fill="none" stroke="#bcff3c" stroke-width="0.9"/>
<circle cx="285.3" cy="274.2" r="1.45" fill="none" stroke="#7cff7c" stroke-width="0.9"/>
<circle cx="331.3" cy="273.4" r="1.45" fill="none" stroke="#8cff6c" stroke-width="0.9"/>
</g>
<polyline points="265.25,146.25 271.5,151.5 267.40,158.50" fill="none" stroke="#d6d6d6" stroke-width="1.05" stroke-linecap="round"/>
<polyline points="329.25,470.25 335.5,475.5 331.40,482.50" fill="none" stroke="#d6d6d6" stroke-width="1.05" stroke-linecap="round"/>
<polyline points="297.50,309.25 303.75,314.5 299.65,321.50" fill="none" stroke="#d6d6d6" stroke-width="1.05" stroke-linecap="round"/>
<text x="282" y="57" font-family='"Liberation Mono", monospace' font-size="13.5" font-weight="bold" font-style="normal" fill="#000" text-anchor="start" textLength="34.5" lengthAdjust="spacingAndGlyphs" xml:space="preserve">North</text>
<text x="16" y="318" font-family='"Liberation Mono", monospace' font-size="13.5" font-weight="bold" font-style="normal" fill="#000" text-anchor="start" textLength="27.5" lengthAdjust="spacingAndGlyphs" xml:space="preserve">West</text>
<text x="552.5" y="318" font-family='"Liberation Sans", sans-serif' font-size="12.5" font-weight="bold" font-style="normal" fill="#000" text-anchor="start" textLength="27" lengthAdjust="spacingAndGlyphs" xml:space="preserve">East</text>
<text x="282" y="578" font-family='"Liberation Sans", sans-serif' font-size="12.5" font-weight="bold" font-style="normal" fill="#000" text-anchor="start" textLength="34.5" lengthAdjust="spacingAndGlyphs" xml:space="preserve">South</text>
<text x="399.3" y="19" font-family='"Liberation Mono", monospace' font-size="14.5" font-weight="bold" font-style="normal" fill="#000" text-anchor="start" textLength="392" lengthAdjust="spacingAndGlyphs" xml:space="preserve" stroke="#fff" stroke-width="0.18">STATION NAME    YYYY DATE  DDD HHMMSS AXN PPS IGP</text>
<text x="399.3" y="36" font-family='"Liberation Mono", monospace' font-size="14.5" font-weight="bold" font-style="normal" fill="#000" text-anchor="start" textLength="392" lengthAdjust="spacingAndGlyphs" xml:space="preserve" stroke="#fff" stroke-width="0.18">Fairford        2013 Jun04 155 135300 417 100 -8D</text>
<text x="594.2" y="71" font-family='"Liberation Mono", monospace' font-size="12.6" font-weight="normal" font-style="normal" fill="#000" text-anchor="start" textLength="98" lengthAdjust="spacingAndGlyphs" xml:space="preserve">Num of Sources</text>
<text x="769.6" y="71" font-family='"Liberation Mono", monospace' font-size="12.6" font-weight="normal" font-style="normal" fill="#000" text-anchor="start" textLength="21" lengthAdjust="spacingAndGlyphs" xml:space="preserve">801</text>
<text x="594.2" y="85" font-family='"Liberation Mono", monospace' font-size="12.6" font-weight="normal" font-style="normal" fill="#000" text-anchor="start" textLength="91" lengthAdjust="spacingAndGlyphs" xml:space="preserve">Min Freq, kHz</text>
<text x="762.6" y="85" font-family='"Liberation Mono", monospace' font-size="12.6" font-weight="normal" font-style="normal" fill="#000" text-anchor="start" textLength="28" lengthAdjust="spacingAndGlyphs" xml:space="preserve">5750</text>
<text x="594.2" y="99" font-family='"Liberation Mono", monospace' font-size="12.6" font-weight="normal" font-style="normal" fill="#000" text-anchor="start" textLength="91" lengthAdjust="spacingAndGlyphs" xml:space="preserve">Max Freq, kHz</text>
<text x="762.6" y="99" font-family='"Liberation Mono", monospace' font-size="12.6" font-weight="normal" font-style="normal" fill="#000" text-anchor="start" textLength="28" lengthAdjust="spacingAndGlyphs" xml:space="preserve">6050</text>
<text x="594.2" y="113" font-family='"Liberation Mono", monospace' font-size="12.6" font-weight="normal" font-style="normal" fill="#000" text-anchor="start" textLength="91" lengthAdjust="spacingAndGlyphs" xml:space="preserve">Min Range, km</text>
<text x="769.6" y="113" font-family='"Liberation Mono", monospace' font-size="12.6" font-weight="normal" font-style="normal" fill="#000" text-anchor="start" textLength="21" lengthAdjust="spacingAndGlyphs" xml:space="preserve">362</text>
<text x="594.2" y="127" font-family='"Liberation Mono", monospace' font-size="12.6" font-weight="normal" font-style="normal" fill="#000" text-anchor="start" textLength="91" lengthAdjust="spacingAndGlyphs" xml:space="preserve">Max Range, km</text>
<text x="769.6" y="127" font-family='"Liberation Mono", monospace' font-size="12.6" font-weight="normal" font-style="normal" fill="#000" text-anchor="start" textLength="21" lengthAdjust="spacingAndGlyphs" xml:space="preserve">430</text>
<text x="594.2" y="141" font-family='"Liberation Mono", monospace' font-size="12.6" font-weight="normal" font-style="normal" fill="#000" text-anchor="start" textLength="77" lengthAdjust="spacingAndGlyphs" xml:space="preserve">Max Amp, dB</text>
<text x="776.6" y="141" font-family='"Liberation Mono", monospace' font-size="12.6" font-weight="normal" font-style="normal" fill="#000" text-anchor="start" textLength="14" lengthAdjust="spacingAndGlyphs" xml:space="preserve">60</text>
<text x="594.2" y="155" font-family='"Liberation Mono", monospace' font-size="12.6" font-weight="normal" font-style="normal" fill="#000" text-anchor="start" textLength="105" lengthAdjust="spacingAndGlyphs" xml:space="preserve">Max SNR Amp, dB</text>
<text x="776.6" y="155" font-family='"Liberation Mono", monospace' font-size="12.6" font-weight="normal" font-style="normal" fill="#000" text-anchor="start" textLength="14" lengthAdjust="spacingAndGlyphs" xml:space="preserve">46</text>
<text x="594.2" y="169" font-family='"Liberation Mono", monospace' font-size="12.6" font-weight="normal" font-style="normal" fill="#000" text-anchor="start" textLength="105" lengthAdjust="spacingAndGlyphs" xml:space="preserve">Min SNR Amp, dB</text>
<text x="776.6" y="169" font-family='"Liberation Mono", monospace' font-size="12.6" font-weight="normal" font-style="normal" fill="#000" text-anchor="start" textLength="14" lengthAdjust="spacingAndGlyphs" xml:space="preserve">11</text>
<text x="594.2" y="183" font-family='"Liberation Mono", monospace' font-size="12.6" font-weight="normal" font-style="normal" fill="#000" text-anchor="start" textLength="105" lengthAdjust="spacingAndGlyphs" xml:space="preserve">Avg SNR Amp, dB</text>
<text x="776.6" y="183" font-family='"Liberation Mono", monospace' font-size="12.6" font-weight="normal" font-style="normal" fill="#000" text-anchor="start" textLength="14" lengthAdjust="spacingAndGlyphs" xml:space="preserve">25</text>
<text x="594.2" y="197" font-family='"Liberation Mono", monospace' font-size="12.6" font-weight="normal" font-style="normal" fill="#000" text-anchor="start" textLength="112" lengthAdjust="spacingAndGlyphs" xml:space="preserve">Max RMS Err, deg</text>
<text x="762.6" y="197" font-family='"Liberation Mono", monospace' font-size="12.6" font-weight="normal" font-style="normal" fill="#000" text-anchor="start" textLength="28" lengthAdjust="spacingAndGlyphs" xml:space="preserve">12.0</text>
<text x="594.2" y="211" font-family='"Liberation Mono", monospace' font-size="12.6" font-weight="normal" font-style="normal" fill="#000" text-anchor="start" textLength="112" lengthAdjust="spacingAndGlyphs" xml:space="preserve">Min RMS Err, deg</text>
<text x="769.6" y="211" font-family='"Liberation Mono", monospace' font-size="12.6" font-weight="normal" font-style="normal" fill="#000" text-anchor="start" textLength="21" lengthAdjust="spacingAndGlyphs" xml:space="preserve">0.0</text>
<text x="594.2" y="225" font-family='"Liberation Mono", monospace' font-size="12.6" font-weight="normal" font-style="normal" fill="#000" text-anchor="start" textLength="112" lengthAdjust="spacingAndGlyphs" xml:space="preserve">Avg RMS Err, deg</text>
<text x="769.6" y="225" font-family='"Liberation Mono", monospace' font-size="12.6" font-weight="normal" font-style="normal" fill="#000" text-anchor="start" textLength="21" lengthAdjust="spacingAndGlyphs" xml:space="preserve">2.6</text>
<text x="594.2" y="239" font-family='"Liberation Mono", monospace' font-size="12.6" font-weight="normal" font-style="normal" fill="#000" text-anchor="start" textLength="105" lengthAdjust="spacingAndGlyphs" xml:space="preserve">Doppler Res, Hz</text>
<text x="748.6" y="239" font-family='"Liberation Mono", monospace' font-size="12.6" font-weight="normal" font-style="normal" fill="#000" text-anchor="start" textLength="42" lengthAdjust="spacingAndGlyphs" xml:space="preserve">0.0488</text>
<text x="594.2" y="253" font-family='"Liberation Mono", monospace' font-size="12.6" font-weight="normal" font-style="normal" fill="#000" text-anchor="start" textLength="56" lengthAdjust="spacingAndGlyphs" xml:space="preserve">CIT, sec</text>
<text x="755.6" y="253" font-family='"Liberation Mono", monospace' font-size="12.6" font-weight="normal" font-style="normal" fill="#000" text-anchor="start" textLength="35" lengthAdjust="spacingAndGlyphs" xml:space="preserve">20.48</text>
<text x="594.2" y="267" font-family='"Liberation Mono", monospace' font-size="12.6" font-weight="normal" font-style="normal" fill="#000" text-anchor="start" textLength="77" lengthAdjust="spacingAndGlyphs" xml:space="preserve">Num of CITs</text>
<text x="783.6" y="267" font-family='"Liberation Mono", monospace' font-size="12.6" font-weight="normal" font-style="normal" fill="#000" text-anchor="start" textLength="7" lengthAdjust="spacingAndGlyphs" xml:space="preserve">6</text>
<text x="594.2" y="281" font-family='"Liberation Mono", monospace' font-size="12.6" font-weight="normal" font-style="normal" fill="#000" text-anchor="start" textLength="84" lengthAdjust="spacingAndGlyphs" xml:space="preserve">Polarization</text>
<text x="748.6" y="281" font-family='"Liberation Mono", monospace' font-size="12.6" font-weight="normal" font-style="normal" fill="#000" text-anchor="start" textLength="42" lengthAdjust="spacingAndGlyphs" xml:space="preserve">O-mode</text>
<text x="594.2" y="295" font-family='"Liberation Mono", monospace' font-size="12.6" font-weight="normal" font-style="normal" fill="#000" text-anchor="start" textLength="161" lengthAdjust="spacingAndGlyphs" xml:space="preserve">Center of Sources, deg:</text>
<text x="594.2" y="309" font-family='"Liberation Mono", monospace' font-size="12.6" font-weight="normal" font-style="normal" fill="#000" text-anchor="start" textLength="112" lengthAdjust="spacingAndGlyphs" xml:space="preserve">          Zenith</text>
<text x="769.6" y="309" font-family='"Liberation Mono", monospace' font-size="12.6" font-weight="normal" font-style="normal" fill="#000" text-anchor="start" textLength="21" lengthAdjust="spacingAndGlyphs" xml:space="preserve">5.2</text>
<text x="594.2" y="323" font-family='"Liberation Mono", monospace' font-size="12.6" font-weight="normal" font-style="normal" fill="#000" text-anchor="start" textLength="119" lengthAdjust="spacingAndGlyphs" xml:space="preserve">          Azimuth</text>
<text x="769.6" y="323" font-family='"Liberation Mono", monospace' font-size="12.6" font-weight="normal" font-style="normal" fill="#000" text-anchor="start" textLength="21" lengthAdjust="spacingAndGlyphs" xml:space="preserve">309</text>
<path d="M722.2 320 Q722.8 317.4 724.6 317.7 Q726.2 318.2 725.7 320.2" fill="none" stroke="#222" stroke-width="0.9"/><path d="M720.6 319.6 L723.4 320 L721.7 321.6 Z" fill="#000"/>
<defs><linearGradient id="jet" x1="0" y1="0" x2="0" y2="1">
<stop offset="0.0000" stop-color="#0000b0"/>
<stop offset="0.0620" stop-color="#0000ff"/>
<stop offset="0.3554" stop-color="#00ffff"/>
<stop offset="0.4979" stop-color="#80ff80"/>
<stop offset="0.6405" stop-color="#ffff00"/>
<stop offset="0.9174" stop-color="#ff0000"/>
<stop offset="1.0000" stop-color="#b80000"/>
</linearGradient></defs>
<rect x="593" y="341" width="15" height="242" fill="url(#jet)"/>
<rect x="608" y="341" width="1" height="242" fill="#000" shape-rendering="crispEdges"/>
<g fill="#000" shape-rendering="crispEdges"><rect x="609" y="582" width="6" height="1"/><rect x="609" y="578" width="6" height="1"/><rect x="609" y="574" width="3" height="1"/><rect x="609" y="570" width="3" height="1"/><rect x="609" y="566" width="3" height="1"/><rect x="609" y="562" width="3" height="1"/><rect x="609" y="558" width="6" height="1"/><rect x="609" y="554" width="3" height="1"/><rect x="609" y="550" width="3" height="1"/><rect x="609" y="547" width="3" height="1"/><rect x="609" y="543" width="3" height="1"/><rect x="609" y="539" width="6" height="1"/><rect x="609" y="535" width="3" height="1"/><rect x="609" y="531" width="3" height="1"/><rect x="609" y="528" width="3" height="1"/><rect x="609" y="524" width="3" height="1"/><rect x="609" y="520" width="6" height="1"/><rect x="609" y="516" width="3" height="1"/><rect x="609" y="512" width="3" height="1"/><rect x="609" y="508" width="3" height="1"/><rect x="609" y="504" width="3" height="1"/><rect x="609" y="500" width="6" height="1"/><rect x="609" y="496" width="3" height="1"/><rect x="609" y="492" width="3" height="1"/><rect x="609" y="489" width="3" height="1"/><rect x="609" y="485" width="3" height="1"/><rect x="609" y="481" width="6" height="1"/><rect x="609" y="477" width="3" height="1"/><rect x="609" y="473" width="3" height="1"/><rect x="609" y="469" width="3" height="1"/><rect x="609" y="465" width="3" height="1"/><rect x="609" y="461" width="6" height="1"/><rect x="609" y="457" width="3" height="1"/><rect x="609" y="453" width="3" height="1"/><rect x="609" y="450" width="3" height="1"/><rect x="609" y="446" width="3" height="1"/><rect x="609" y="442" width="6" height="1"/><rect x="609" y="438" width="3" height="1"/><rect x="609" y="434" width="3" height="1"/><rect x="609" y="431" width="3" height="1"/><rect x="609" y="427" width="3" height="1"/><rect x="609" y="423" width="6" height="1"/><rect x="609" y="419" width="3" height="1"/><rect x="609" y="415" width="3" height="1"/><rect x="609" y="411" width="3" height="1"/><rect x="609" y="407" width="3" height="1"/><rect x="609" y="403" width="6" height="1"/><rect x="609" y="399" width="3" height="1"/><rect x="609" y="395" width="3" height="1"/><rect x="609" y="392" width="3" height="1"/><rect x="609" y="388" width="3" height="1"/><rect x="609" y="384" width="6" height="1"/><rect x="609" y="380" width="3" height="1"/><rect x="609" y="376" width="3" height="1"/><rect x="609" y="373" width="3" height="1"/><rect x="609" y="369" width="3" height="1"/><rect x="609" y="365" width="6" height="1"/><rect x="609" y="361" width="3" height="1"/><rect x="609" y="357" width="3" height="1"/><rect x="609" y="353" width="3" height="1"/><rect x="609" y="349" width="3" height="1"/><rect x="609" y="345" width="6" height="1"/><rect x="609" y="341" width="6" height="1"/></g>
<text x="617.5" y="345.1" font-family='"Liberation Sans", sans-serif' font-size="11" font-weight="bold" font-style="normal" fill="#000" text-anchor="start" textLength="18.5" lengthAdjust="spacingAndGlyphs" xml:space="preserve">3.1</text>
<text x="617.5" y="369.1" font-family='"Liberation Sans", sans-serif' font-size="11" font-weight="bold" font-style="normal" fill="#000" text-anchor="start" textLength="18.5" lengthAdjust="spacingAndGlyphs" xml:space="preserve">2.5</text>
<text x="617.5" y="388.1" font-family='"Liberation Sans", sans-serif' font-size="11" font-weight="bold" font-style="normal" fill="#000" text-anchor="start" textLength="18.5" lengthAdjust="spacingAndGlyphs" xml:space="preserve">2.0</text>
<text x="617.5" y="407.1" font-family='"Liberation Sans", sans-serif' font-size="11" font-weight="bold" font-style="normal" fill="#000" text-anchor="start" textLength="18.5" lengthAdjust="spacingAndGlyphs" xml:space="preserve">1.5</text>
<text x="617.5" y="427.1" font-family='"Liberation Sans", sans-serif' font-size="11" font-weight="bold" font-style="normal" fill="#000" text-anchor="start" textLength="18.5" lengthAdjust="spacingAndGlyphs" xml:space="preserve">1.0</text>
<text x="617.5" y="446.1" font-family='"Liberation Sans", sans-serif' font-size="11" font-weight="bold" font-style="normal" fill="#000" text-anchor="start" textLength="18.5" lengthAdjust="spacingAndGlyphs" xml:space="preserve">0.5</text>
<text x="617.5" y="465.1" font-family='"Liberation Sans", sans-serif' font-size="11" font-weight="bold" font-style="normal" fill="#000" text-anchor="start" textLength="6.5" lengthAdjust="spacingAndGlyphs" xml:space="preserve">0</text>
<text x="617.7" y="485.1" font-family='"Liberation Sans", sans-serif' font-size="11" font-weight="bold" font-style="normal" fill="#000" text-anchor="start" textLength="3.4" lengthAdjust="spacingAndGlyphs" xml:space="preserve">-</text>
<text x="622.8" y="485.1" font-family='"Liberation Sans", sans-serif' font-size="11" font-weight="bold" font-style="normal" fill="#000" text-anchor="start" textLength="18.3" lengthAdjust="spacingAndGlyphs" xml:space="preserve">0.5</text>
<text x="617.7" y="504.1" font-family='"Liberation Sans", sans-serif' font-size="11" font-weight="bold" font-style="normal" fill="#000" text-anchor="start" textLength="3.4" lengthAdjust="spacingAndGlyphs" xml:space="preserve">-</text>
<text x="622.8" y="504.1" font-family='"Liberation Sans", sans-serif' font-size="11" font-weight="bold" font-style="normal" fill="#000" text-anchor="start" textLength="18.3" lengthAdjust="spacingAndGlyphs" xml:space="preserve">1.0</text>
<text x="617.7" y="524.1" font-family='"Liberation Sans", sans-serif' font-size="11" font-weight="bold" font-style="normal" fill="#000" text-anchor="start" textLength="3.4" lengthAdjust="spacingAndGlyphs" xml:space="preserve">-</text>
<text x="622.8" y="524.1" font-family='"Liberation Sans", sans-serif' font-size="11" font-weight="bold" font-style="normal" fill="#000" text-anchor="start" textLength="18.3" lengthAdjust="spacingAndGlyphs" xml:space="preserve">1.5</text>
<text x="617.7" y="543.1" font-family='"Liberation Sans", sans-serif' font-size="11" font-weight="bold" font-style="normal" fill="#000" text-anchor="start" textLength="3.4" lengthAdjust="spacingAndGlyphs" xml:space="preserve">-</text>
<text x="622.8" y="543.1" font-family='"Liberation Sans", sans-serif' font-size="11" font-weight="bold" font-style="normal" fill="#000" text-anchor="start" textLength="18.3" lengthAdjust="spacingAndGlyphs" xml:space="preserve">2.0</text>
<text x="617.7" y="562.1" font-family='"Liberation Sans", sans-serif' font-size="11" font-weight="bold" font-style="normal" fill="#000" text-anchor="start" textLength="3.4" lengthAdjust="spacingAndGlyphs" xml:space="preserve">-</text>
<text x="622.8" y="562.1" font-family='"Liberation Sans", sans-serif' font-size="11" font-weight="bold" font-style="normal" fill="#000" text-anchor="start" textLength="18.3" lengthAdjust="spacingAndGlyphs" xml:space="preserve">2.5</text>
<text x="617.7" y="586.1" font-family='"Liberation Sans", sans-serif' font-size="11" font-weight="bold" font-style="normal" fill="#000" text-anchor="start" textLength="3.4" lengthAdjust="spacingAndGlyphs" xml:space="preserve">-</text>
<text x="622.8" y="586.1" font-family='"Liberation Sans", sans-serif' font-size="11" font-weight="bold" font-style="normal" fill="#000" text-anchor="start" textLength="18.3" lengthAdjust="spacingAndGlyphs" xml:space="preserve">3.1</text>
<text transform="translate(657.3 492) rotate(-90)" font-family='"Liberation Sans", sans-serif' font-size="10.4" font-weight="bold" textLength="53" lengthAdjust="spacingAndGlyphs">Doppler, Hz</text>
<path d="M669 402.5h8M673 398.5v8" stroke="#0000e6" stroke-width="1.2" fill="none"/>
<text x="682.5" y="405.5" font-family='"Liberation Sans", sans-serif' font-size="10" font-weight="bold" font-style="normal" fill="#0000e6" text-anchor="start" textLength="44.5" lengthAdjust="spacingAndGlyphs" xml:space="preserve">Positive</text>
<circle cx="672.8" cy="522.6" r="2.6" fill="none" stroke="#ee0000" stroke-width="1.2"/>
<text x="682.5" y="525.5" font-family='"Liberation Sans", sans-serif' font-size="10" font-weight="bold" font-style="normal" fill="#ee0000" text-anchor="start" textLength="50.5" lengthAdjust="spacingAndGlyphs" xml:space="preserve">Negative</text>
<text x="11.4" y="572" font-family='"Liberation Mono", monospace' font-size="12.6" font-weight="normal" font-style="italic" fill="#000" text-anchor="start" textLength="7" lengthAdjust="spacingAndGlyphs" xml:space="preserve">V</text>
<text x="18.4" y="575.5" font-family='"Liberation Mono", monospace' font-size="11" font-weight="normal" font-style="normal" fill="#000" text-anchor="start" textLength="6.5" lengthAdjust="spacingAndGlyphs" xml:space="preserve">h</text>
<text x="25.4" y="572" font-family='"Liberation Mono", monospace' font-size="12.6" font-weight="normal" font-style="normal" fill="#000" text-anchor="start" textLength="21" lengthAdjust="spacingAndGlyphs" xml:space="preserve"> = </text>
<text x="46.4" y="572" font-family='"Liberation Mono", monospace' font-size="12.6" font-weight="normal" font-style="italic" fill="#000" text-anchor="start" textLength="14" lengthAdjust="spacingAndGlyphs" xml:space="preserve">15</text>
<text x="60.4" y="572" font-family='"Liberation Mono", monospace' font-size="12.6" font-weight="normal" font-style="normal" fill="#000" text-anchor="start" textLength="21" lengthAdjust="spacingAndGlyphs" xml:space="preserve"> ± </text>
<text x="81.4" y="572" font-family='"Liberation Mono", monospace' font-size="12.6" font-weight="normal" font-style="italic" fill="#000" text-anchor="start" textLength="14" lengthAdjust="spacingAndGlyphs" xml:space="preserve">26</text>
<text x="95.4" y="572" font-family='"Liberation Mono", monospace' font-size="12.6" font-weight="normal" font-style="normal" fill="#000" text-anchor="start" textLength="28" lengthAdjust="spacingAndGlyphs" xml:space="preserve"> m/s</text>
<text x="480.6" y="572" font-family='"Liberation Mono", monospace' font-size="12.6" font-weight="normal" font-style="italic" fill="#000" text-anchor="start" textLength="7" lengthAdjust="spacingAndGlyphs" xml:space="preserve">V</text>
<text x="487.6" y="575.5" font-family='"Liberation Mono", monospace' font-size="11" font-weight="normal" font-style="normal" fill="#000" text-anchor="start" textLength="6.5" lengthAdjust="spacingAndGlyphs" xml:space="preserve">z</text>
<text x="494.6" y="572" font-family='"Liberation Mono", monospace' font-size="12.6" font-weight="normal" font-style="normal" fill="#000" text-anchor="start" textLength="21" lengthAdjust="spacingAndGlyphs" xml:space="preserve"> = </text>
<text x="515.6" y="572" font-family='"Liberation Mono", monospace' font-size="12.6" font-weight="normal" font-style="italic" fill="#000" text-anchor="start" textLength="7" lengthAdjust="spacingAndGlyphs" xml:space="preserve">5</text>
<text x="522.6" y="572" font-family='"Liberation Mono", monospace' font-size="12.6" font-weight="normal" font-style="normal" fill="#000" text-anchor="start" textLength="21" lengthAdjust="spacingAndGlyphs" xml:space="preserve"> ± </text>
<text x="543.6" y="572" font-family='"Liberation Mono", monospace' font-size="12.6" font-weight="normal" font-style="italic" fill="#000" text-anchor="start" textLength="7" lengthAdjust="spacingAndGlyphs" xml:space="preserve">2</text>
<text x="550.6" y="572" font-family='"Liberation Mono", monospace' font-size="12.6" font-weight="normal" font-style="normal" fill="#000" text-anchor="start" textLength="28" lengthAdjust="spacingAndGlyphs" xml:space="preserve"> m/s</text>
<text x="11.4" y="592" font-family='"Liberation Mono", monospace' font-size="12.6" font-weight="normal" font-style="italic" fill="#000" text-anchor="start" textLength="154" lengthAdjust="spacingAndGlyphs" xml:space="preserve">Geographic coordinates</text>
<text x="418.5" y="592" font-family='"Liberation Mono", monospace' font-size="12.6" font-weight="normal" font-style="italic" fill="#000" text-anchor="start" textLength="105" lengthAdjust="spacingAndGlyphs" xml:space="preserve">Zenith: max 40°</text>
<text x="534.2" y="592" font-family='"Liberation Mono", monospace' font-size="12.6" font-weight="normal" font-style="italic" fill="#000" text-anchor="start" textLength="49" lengthAdjust="spacingAndGlyphs" xml:space="preserve">step 5°</text>
<text x="654.6" y="592.5" font-family='"Liberation Sans", sans-serif' font-size="10" font-weight="normal" font-style="normal" fill="#000" text-anchor="start" textLength="137.5" lengthAdjust="spacingAndGlyphs" xml:space="preserve">ShowSkymap v 1.0   SD v 5.1</text>
<path d="M40.3 13.3 C31 9.8 16.5 11.2 12.2 25.5 C10.1 32.5 11.6 39.2 14.5 42.9 C14.3 37 14.8 31.5 16.7 26.5 C20.2 17.4 29.2 12.6 40.3 13.3 Z" fill="#3a9bc8"/>
<text x="48.7" y="30.6" font-family='"Liberation Serif", serif' font-size="11.5" font-weight="normal" font-style="normal" fill="#34182e" text-anchor="start" textLength="30.8" lengthAdjust="spacingAndGlyphs" xml:space="preserve" stroke="#34182e" stroke-width="0.2">Lowell</text>
<text x="19.8" y="43.1" font-family='"Liberation Sans", sans-serif' font-size="10.6" font-weight="normal" font-style="normal" fill="#9c2a68" text-anchor="start" textLength="60" lengthAdjust="spacingAndGlyphs" xml:space="preserve" stroke="#9c2a68" stroke-width="0.3">DIGISONDE</text>
</svg>
</body>
</html>
